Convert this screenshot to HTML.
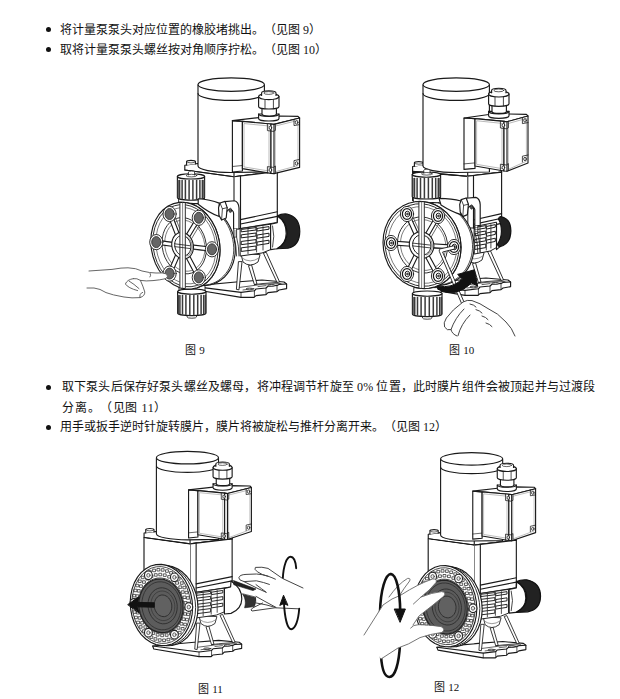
<!DOCTYPE html>
<html lang="zh-CN">
<head>
<meta charset="utf-8">
<title>page</title>
<style>
html,body{margin:0;padding:0;background:#fff;}
body{width:620px;height:699px;position:relative;overflow:hidden;font-family:"Liberation Serif",serif;color:#111;}
.t{position:absolute;text-spacing-trim:space-all;white-space:nowrap;font-size:12px;line-height:14px;height:14px;}
.b{position:absolute;width:5px;height:5px;border-radius:50%;background:#111;}
.c{position:absolute;white-space:nowrap;font-size:11px;line-height:12px;height:12px;word-spacing:1px;}
svg{position:absolute;left:0;top:0;}
</style>
</head>
<body>
<div class="b" style="left:45.7px;top:27px"></div>
<div class="t" style="left:60px;top:23px">将计量泵泵头对应位置的橡胶堵挑出。（见图 9）</div>
<div class="b" style="left:45.7px;top:47.4px"></div>
<div class="t" style="left:60px;top:43.2px">取将计量泵泵头螺丝按对角顺序拧松。（见图 10）</div>
<div class="b" style="left:45.7px;top:384.6px"></div>
<div class="t" style="left:62px;top:380px;letter-spacing:0.16px">取下泵头后保存好泵头螺丝及螺母，将冲程调节杆旋至 0% 位置，此时膜片组件会被顶起并与过渡段</div>
<div class="t" style="left:62.4px;top:400.8px;letter-spacing:0.6px">分离。（见图 11）</div>
<div class="b" style="left:45.7px;top:424.6px"></div>
<div class="t" style="left:60px;top:420px">用手或扳手逆时针旋转膜片，膜片将被旋松与推杆分离开来。（见图 12）</div>
<div class="c" style="left:184.5px;top:344.4px">图 9</div>
<div class="c" style="left:448.5px;top:344.4px">图 10</div>
<div class="c" style="left:197.5px;top:683.4px">图 11</div>
<div class="c" style="left:433.5px;top:681.2px">图 12</div>
<svg id="figs" width="620" height="699" viewBox="0 0 620 699" fill="none" stroke="#1a1a1a" stroke-width="1.15" stroke-linecap="round" stroke-linejoin="round">
<g id="f9">
<path d="M184.8,165.2 L197.5,163.5 L234.0,171.3 L277.3,166.0 L277.3,171.5 L234.0,176.8 L184.8,170.0 Z" fill="#fff"/>
<path d="M184.8,170.0 L234.0,176.8 L277.3,171.5 M234.0,171.3 L234.0,176.8" />
<path d="M186.6,165.0 L186.6,161.6 A4.4,1.3 0 0 1 195.4,161.6 L195.4,164.0" fill="#fff"/>
<path d="M186.6,161.6 A4.4,1.3 0 0 0 195.4,161.6" stroke-width="0.7"/>
<path d="M234.0,176.8 L277.3,171.5 L277.3,222.6 L240.5,228.6 L234.0,228.6 Z" fill="#fff"/>
<path d="M240.5,176.0 L240.5,228.6" />
<path d="M234.0,176.8 L234.0,230.0" stroke="#999" stroke-width="0.7"/>
<path d="M240.5,219.6 L277.3,211.8 M240.5,224.0 L277.3,216.4" />
<g transform="translate(0.0,0.0)">
<path d="M191.4,286.1 L236,282 L262,280 L284,282 L286.6,284 L286.6,288.6 L279,290 L277,291.6 L268,292.6 L266,294.6 L256,295.6 L254,297.4 L241,297.4 L192.6,289.2 Z" fill="#fff"/>
<path d="M191.4,286.1 L241,292.4 L254.4,290.8 L256,289 L266,288 L268,286.2 L277,285.4 L279,284.4 L286.6,284" />
<path d="M238,287.6 L262,284.4 L281,283.4 M243,290 L254,288.6 M258,286.6 L266,285.6" stroke-width="0.8" stroke="#333"/>
<ellipse cx="249.6" cy="289" rx="3.6" ry="0.9" stroke-width="0.8" fill="#ddd"/>
<ellipse cx="271.6" cy="285.4" rx="3.8" ry="0.9" stroke-width="0.8" fill="#ddd"/>
<path d="M241,292.4 L241,297.4 M254.4,290.8 L254.4,297 M266,288 L266,294.4 M277,285.4 L277,291.4" stroke-width="0.8"/>
<path d="M238.4,262 L236.4,289.4 L239,289.8 L242,262 Z" fill="#fff" stroke-width="0.9"/>
<path d="M248.6,266 L254.4,284.6 L257,284 L251.6,265 Z" fill="#fff" stroke-width="0.9"/>
<path d="M263.6,253.6 L277,282.4 L279.6,282 L266.4,252.6 Z" fill="#fff" stroke-width="0.9"/>
<path d="M254.4,284.6 L262,283.6 L277,282.4" stroke-width="0.8"/>
<path d="M241,254 L243,262 Q250,268 258,262 L260,255 Z" fill="#fff" stroke-width="0.9"/>
<path d="M242,258 Q250,264 259,258" stroke-width="0.7" stroke="#666"/>
</g>
<g transform="translate(0.0,0.0)">
<path d="M240.5,228.6 L270.6,224.2 L270.6,249.6 L262.0,253 L240.5,256 Z" fill="#fff" stroke-width="1"/>
<path d="M241.6,229.4 L256.0,227.6 L256.0,230.0 L241.6,231.8 Z" fill="#fff" stroke-width="1"/>
<path d="M241.6,234.8 L256.0,233.0 L256.0,236.0 L241.6,237.8 Z" fill="#fff" stroke-width="1"/>
<path d="M241.6,241.4 L256.0,239.6 L256.0,242.8 L241.6,244.6 Z" fill="#fff" stroke-width="1"/>
<path d="M241.6,247.8 L256.0,246.0 L256.0,249.6 L241.6,251.4 Z" fill="#fff" stroke-width="1"/>
<path d="M257.4,228.4 L269.0,226.6 L269.0,229.2 L257.4,231.0 Z" fill="#fff" stroke-width="1"/>
<path d="M257.4,235.0 L269.0,233.2 L269.0,236.4 L257.4,238.2 Z" fill="#fff" stroke-width="1"/>
<path d="M257.4,242.0 L269.0,240.2 L269.0,243.4 L257.4,245.2 Z" fill="#fff" stroke-width="1"/>
<path d="M248.0,229 L248.0,253.6 M256.6,227 L256.6,252 M263.0,226.6 L263.0,250" stroke-width="0.9" stroke="#333"/>
</g>
<g transform="translate(0.00,0) scale(1.000,1)">
<path d="M270.6,224.2 L277.3,222.6 L277.6,216 Q286.4,222 286.2,233.6 Q286,244 277,248.8 L270.6,249.6 Z" fill="#fff"/>
<path d="M277.6,215.8 Q281,213.6 287,214 Q299.8,217 299.8,231.6 Q299.6,246 288,248.2 L277,248.8 Q287,243 287,233.4 Q287,222 277.6,215.8 Z" fill="#222" stroke="#111"/>
<path d="M272.6,226 Q275,236 272.6,247" stroke-width="0.8"/>
</g>
<g transform="translate(0.0,0.0)">
<path d="M198,85 L198,166 A33.2,6.5 0 0 0 231.2,172.5 L264.4,172 L264.4,85 Z" fill="#fff"/>
<ellipse cx="231.2" cy="84.6" rx="33.2" ry="6.7" fill="#fff"/>
<path d="M198,93.5 A33.2,6.9 0 0 0 264.4,93.5" />
</g>
<path d="M232.4,120.6 L242.4,121.4 L242.4,171.0 L232.4,172.0 Z" fill="#fff"/>
<path d="M232.4,166.5 L242.4,165.5" stroke-width="0.7"/>
<path d="M232.4,120.6 L258.8,117.6 L278.8,116.0 L298.0,116.4 L299.6,118.0 L274.0,124.4 L271.0,124.0 L242.4,121.4 Z" fill="#fff"/>
<path d="M242.4,121.4 L271.0,124.0 L271.0,173.4 L242.4,168.6 Z" fill="#fff"/>
<path d="M244.4,123.6 L269.0,126.0 L269.0,171.0 L244.4,167.0 Z" stroke-width="0.5" stroke="#777"/>
<path d="M271.0,124.0 L274.0,124.4 L299.6,118.0 L299.6,167.4 L274.0,173.6 L271.0,173.4 Z" fill="#fff"/>
<path d="M274.0,124.4 L274.0,173.6" />
<path d="M275.6,126.0 L298.0,120.4 L298.0,165.6 L275.6,171.6 Z" stroke-width="0.5" stroke="#777"/>
<ellipse cx="270.4" cy="127.8" rx="1.3" ry="1.7" fill="#fff" stroke-width="0.8"/>
<ellipse cx="270.4" cy="170.0" rx="1.3" ry="1.7" fill="#fff" stroke-width="0.8"/>
<ellipse cx="296.6" cy="122.4" rx="1.3" ry="1.7" fill="#fff" stroke-width="0.8"/>
<ellipse cx="296.6" cy="163.4" rx="1.3" ry="1.7" fill="#fff" stroke-width="0.8"/>
<path d="M267.4,124.0 L267.4,130.6 L273.4,131.4 L275.4,130.4 L275.4,124.6" stroke-width="0.8"/>
<path d="M267.4,173.0 L267.4,166.6 L273.4,167.4 L275.4,166.0 L275.4,173.0" stroke-width="0.8"/>
<path d="M294.0,119.6 L294.0,125.6 L299.6,124.6" stroke-width="0.8"/>
<path d="M294.0,166.4 L294.0,160.6 L299.6,159.4" stroke-width="0.8"/>
<g transform="translate(0.0,0.0)">
<path d="M258.6,114 L258.6,118.4 A10.2,2.6 0 0 0 279,118.4 L279,114 Z" fill="#fff"/>
<path d="M258.6,114 A10.2,2.4 0 0 0 279,114" />
<path d="M262,107 L262,114 A7.2,2 0 0 0 276.4,114 L276.4,107 Z" fill="#fff"/>
<path d="M258.6,96.6 L258.6,106.4 A10.2,2.6 0 0 0 279,106.4 L279,96.6 Z" fill="#fff"/>
<path d="M265,98 L265,108.4 M273.4,98 L273.4,108.4" stroke-width="0.8"/>
<path d="M258.6,96.6 A10.2,3 0 0 1 279,96.6 A10.2,3 0 0 1 258.6,96.6 Z" fill="#fff"/>
<path d="M261.6,95.4 L261.6,93 A7.2,2.2 0 0 1 276,93 L276,95.4" fill="#fff"/>
<ellipse cx="268.8" cy="93" rx="5" ry="1.4" stroke-width="0.7"/>
</g>
<path d="M179.0,286.0 L179.0,291.6 L205.0,291.6 L205.0,286.0 Z" fill="#fff" stroke-width="0.9"/>
<path d="M177.6,291.6 L177.6,313.0 A14.2,2.6 0 0 0 206.0,313.0 L206.0,291.6 Z" fill="#fff"/>
<path d="M178.2,295.6 L178.2,312.7" stroke-width="1.5" stroke="#3a3a3a"/>
<path d="M179.9,295.6 L179.9,313.4" stroke-width="1.5" stroke="#3a3a3a"/>
<path d="M182.5,295.6 L182.5,314.0" stroke-width="1.5" stroke="#3a3a3a"/>
<path d="M185.9,295.6 L185.9,314.4" stroke-width="1.5" stroke="#3a3a3a"/>
<path d="M189.8,295.6 L189.8,314.6" stroke-width="1.5" stroke="#3a3a3a"/>
<path d="M193.8,295.6 L193.8,314.6" stroke-width="1.5" stroke="#3a3a3a"/>
<path d="M197.7,295.6 L197.7,314.4" stroke-width="1.5" stroke="#3a3a3a"/>
<path d="M201.1,295.6 L201.1,314.0" stroke-width="1.5" stroke="#3a3a3a"/>
<path d="M203.7,295.6 L203.7,313.4" stroke-width="1.5" stroke="#3a3a3a"/>
<path d="M205.4,295.6 L205.4,312.7" stroke-width="1.5" stroke="#3a3a3a"/>
<ellipse cx="191.8" cy="291.6" rx="14.2" ry="2.6" fill="#fff"/>
<path d="M187.1,315.6 L187.1,317.0 A4.6,1.2 0 0 0 196.5,317.0 L196.5,315.6" stroke-width="0.8"/>
<path d="M178.6,198.0 L178.6,202.6 A13,2.4 0 0 0 204.4,202.6 L204.4,198.0 Z" fill="#fff" stroke-width="0.9"/>
<path d="M177.4,176.4 L177.4,197.6 A13.6,2.6 0 0 0 204.6,197.6 L204.6,176.4 Z" fill="#fff"/>
<path d="M178.0,180.4 L178.0,197.3" stroke-width="1.5" stroke="#3a3a3a"/>
<path d="M179.6,180.4 L179.6,198.0" stroke-width="1.5" stroke="#3a3a3a"/>
<path d="M182.1,180.4 L182.1,198.6" stroke-width="1.5" stroke="#3a3a3a"/>
<path d="M185.4,180.4 L185.4,199.0" stroke-width="1.5" stroke="#3a3a3a"/>
<path d="M189.1,180.4 L189.1,199.2" stroke-width="1.5" stroke="#3a3a3a"/>
<path d="M192.9,180.4 L192.9,199.2" stroke-width="1.5" stroke="#3a3a3a"/>
<path d="M196.6,180.4 L196.6,199.0" stroke-width="1.5" stroke="#3a3a3a"/>
<path d="M199.9,180.4 L199.9,198.6" stroke-width="1.5" stroke="#3a3a3a"/>
<path d="M202.4,180.4 L202.4,198.0" stroke-width="1.5" stroke="#3a3a3a"/>
<path d="M204.0,180.4 L204.0,197.3" stroke-width="1.5" stroke="#3a3a3a"/>
<ellipse cx="191.0" cy="176.4" rx="13.6" ry="2.6" fill="#fff"/>
<path d="M188.4,175.0 L188.4,172.0 A3.1,1 0 0 1 194.6,172.0 L194.6,175.0" fill="#fff" stroke-width="0.8"/>
<ellipse cx="191.5" cy="175.6" rx="5.4" ry="1.3" stroke-width="0.7"/>
<path d="M193.6,203.6 L197.7,203.6 L201.9,204.1 L206.0,205.2 L210.0,206.8 L213.9,208.9 L217.5,211.5 L221.0,214.6 L224.2,218.0 L227.0,221.8 L229.5,226.0 L231.5,230.3 L233.2,234.9 L234.3,239.6 L235.1,244.4 L235.3,249.1 L235.1,253.8 L234.3,258.4 L233.2,262.8 L231.5,266.9 L229.5,270.7 L227.0,274.2 L224.2,277.3 L221.0,279.9 L217.5,282.1 L213.9,283.7 L210.0,284.9 L206.0,285.4 L201.9,285.4 L197.7,284.9 L193.6,283.8 L179.4,287.5 L183.4,288.6 L187.4,289.1 L191.4,289.0 L195.3,288.4 L199.1,287.1 L202.7,285.4 L206.1,283.0 L209.1,280.2 L211.9,276.9 L214.3,273.2 L216.3,269.1 L217.9,264.7 L219.1,260.0 L219.8,255.2 L220.0,250.2 L219.8,245.2 L219.1,240.1 L217.9,235.2 L216.3,230.3 L214.3,225.7 L211.9,221.4 L209.1,217.4 L206.1,213.7 L202.7,210.5 L199.1,207.8 L195.3,205.6 L191.4,203.9 L187.4,202.8 L183.4,202.3 L179.4,202.4Z" fill="#fff"/>
<path d="M215.9,211.3 L218.7,213.7 L221.2,216.3 L223.6,219.1 L225.8,222.2 L227.7,225.4 L229.4,228.8 L230.8,232.4 L231.9,236.0 L232.8,239.7 L233.4,243.4 L233.7,247.2 L233.7,250.9 L233.4,254.6 L232.8,258.1 L231.9,261.6 L230.7,264.9 L229.3,268.1 L227.6,271.0 L225.6,273.7 L223.4,276.2 L221.1,278.4 L218.5,280.4 L215.8,282.0 L212.9,283.3 L209.9,284.3 L206.7,285.0 L203.6,285.3 L200.3,285.3 L197.1,284.9 L193.9,284.2" stroke-width="0.8"/>
<path d="M198.2,198.7 Q210.2,199.3 219.2,203.1 L219.2,216.5 Q209.2,213.1 198.2,204.3 Z" fill="#fff"/>
<path d="M220.0,250.2 L219.5,257.6 L217.9,264.7 L215.4,271.2 L211.9,276.9 L207.6,281.7 L202.7,285.4 L197.2,287.8 L191.4,289.0 L185.4,288.9 L179.4,287.5 L173.6,284.8 L168.1,280.9 L163.2,275.9 L158.9,270.0 L155.4,263.4 L152.9,256.2 L151.3,248.8 L150.8,241.2 L151.3,233.8 L152.9,226.7 L155.4,220.2 L158.9,214.5 L163.2,209.7 L168.1,206.0 L173.6,203.6 L179.4,202.4 L185.4,202.5 L191.4,203.9 L197.2,206.6 L202.7,210.5 L207.6,215.5 L211.9,221.4 L215.4,228.0 L217.9,235.2 L219.5,242.6Z" fill="#fff"/>
<path d="M218.0,249.9 L217.5,257.0 L216.0,263.7 L213.6,269.8 L210.4,275.2 L206.4,279.8 L201.7,283.2 L196.5,285.6 L191.1,286.7 L185.4,286.6 L179.7,285.2 L174.3,282.7 L169.1,279.0 L164.4,274.3 L160.4,268.7 L157.2,262.5 L154.8,255.7 L153.3,248.6 L152.8,241.5 L153.3,234.4 L154.8,227.7 L157.2,221.6 L160.4,216.2 L164.4,211.6 L169.1,208.2 L174.3,205.8 L179.7,204.7 L185.4,204.8 L191.1,206.2 L196.5,208.7 L201.7,212.4 L206.4,217.1 L210.4,222.7 L213.6,228.9 L216.0,235.7 L217.5,242.8Z" stroke-width="0.9"/>
<path d="M215.8,249.6 L215.3,256.1 L214.0,262.4 L211.8,268.1 L208.8,273.1 L205.1,277.3 L200.8,280.6 L196.1,282.7 L191.0,283.8 L185.8,283.7 L180.6,282.4 L175.5,280.1 L170.8,276.7 L166.5,272.3 L162.8,267.1 L159.8,261.3 L157.6,255.0 L156.3,248.5 L155.8,241.8 L156.3,235.3 L157.6,229.0 L159.8,223.3 L162.8,218.3 L166.5,214.1 L170.8,210.8 L175.5,208.7 L180.6,207.6 L185.8,207.7 L191.0,209.0 L196.1,211.3 L200.8,214.7 L205.1,219.1 L208.8,224.3 L211.8,230.1 L214.0,236.4 L215.3,242.9Z" stroke-width="0.7" stroke="#444"/>
<path d="M206.4,248.6 L206.1,253.4 L205.1,258.0 L203.5,262.2 L201.2,265.9 L198.5,269.0 L195.3,271.4 L191.8,273.0 L188.1,273.8 L184.2,273.7 L180.3,272.8 L176.6,271.0 L173.1,268.5 L169.9,265.3 L167.2,261.5 L164.9,257.2 L163.3,252.6 L162.3,247.7 L162.0,242.8 L162.3,238.0 L163.3,233.4 L164.9,229.2 L167.2,225.5 L169.9,222.4 L173.1,220.0 L176.6,218.4 L180.3,217.6 L184.2,217.7 L188.1,218.6 L191.8,220.4 L195.3,222.9 L198.5,226.1 L201.2,229.9 L203.5,234.2 L205.1,238.8 L206.1,243.7Z" stroke-width="0.9"/>
<path d="M204.9,248.3 L204.6,252.7 L203.7,256.8 L202.2,260.7 L200.2,264.0 L197.7,266.8 L194.8,269.0 L191.7,270.5 L188.3,271.2 L184.8,271.1 L181.3,270.3 L177.9,268.7 L174.8,266.4 L171.9,263.5 L169.4,260.0 L167.4,256.1 L165.9,251.9 L165.0,247.5 L164.7,243.1 L165.0,238.7 L165.9,234.6 L167.4,230.7 L169.4,227.4 L171.9,224.6 L174.8,222.4 L177.9,220.9 L181.3,220.2 L184.8,220.3 L188.3,221.1 L191.7,222.7 L194.8,225.0 L197.7,227.9 L200.2,231.4 L202.2,235.3 L203.7,239.5 L204.6,243.9Z" stroke-width="0.7" stroke="#444"/>
<path d="M182.4,235.6 L174.1,213.9" stroke-width="0.8" stroke="#444"/>
<path d="M179.8,235.0 L171.5,213.3 L167.7,214.7 L176.1,236.4 Z" fill="#fff" stroke="none"/>
<path d="M179.8,235.0 L171.5,213.3 M176.1,236.4 L167.7,214.7" stroke-width="1.1"/>
<path d="M191.6,238.6 L203.1,219.4" stroke-width="0.8" stroke="#444"/>
<path d="M189.0,238.0 L200.5,218.8 L197.1,216.8 L185.5,235.9 Z" fill="#fff" stroke="none"/>
<path d="M189.0,238.0 L200.5,218.8 M185.5,235.9 L197.1,216.8" stroke-width="1.1"/>
<path d="M176.6,243.2 L159.2,240.7" stroke-width="0.8" stroke="#444"/>
<path d="M174.0,242.6 L156.6,240.1 L156.1,244.1 L173.4,246.5 Z" fill="#fff" stroke="none"/>
<path d="M174.0,242.6 L156.6,240.1 M173.4,246.5 L156.1,244.1" stroke-width="1.1"/>
<path d="M193.9,249.4 L214.4,251.9" stroke-width="0.8" stroke="#444"/>
<path d="M191.3,248.8 L211.8,251.3 L212.3,247.3 L191.7,244.9 Z" fill="#fff" stroke="none"/>
<path d="M191.3,248.8 L211.8,251.3 M191.7,244.9 L212.3,247.3" stroke-width="1.1"/>
<path d="M178.7,254.3 L170.4,273.4" stroke-width="0.8" stroke="#444"/>
<path d="M176.1,253.7 L167.8,272.8 L171.4,274.4 L179.8,255.3 Z" fill="#fff" stroke="none"/>
<path d="M176.1,253.7 L167.8,272.8 M179.8,255.3 L171.4,274.4" stroke-width="1.1"/>
<path d="M188.1,257.2 L199.6,278.9" stroke-width="0.8" stroke="#444"/>
<path d="M185.5,256.6 L197.0,278.3 L200.6,276.5 L189.0,254.7 Z" fill="#fff" stroke="none"/>
<path d="M185.5,256.6 L197.0,278.3 M189.0,254.7 L200.6,276.5" stroke-width="1.1"/>
<path d="M193.5,247.1 L193.3,249.4 L192.8,251.5 L192.0,253.5 L190.9,255.3 L189.6,256.7 L188.0,257.8 L186.3,258.6 L184.5,258.9 L182.6,258.9 L180.7,258.5 L178.9,257.6 L177.2,256.4 L175.6,254.9 L174.3,253.1 L173.2,251.1 L172.4,248.9 L171.9,246.6 L171.7,244.3 L171.9,242.0 L172.4,239.9 L173.2,237.9 L174.3,236.1 L175.6,234.7 L177.2,233.6 L178.9,232.8 L180.7,232.5 L182.6,232.5 L184.5,232.9 L186.3,233.8 L188.0,235.0 L189.6,236.5 L190.9,238.3 L192.0,240.3 L192.8,242.5 L193.3,244.8Z" fill="#fff" stroke-width="1.1"/>
<path d="M190.9,246.8 L190.8,248.5 L190.4,250.1 L189.8,251.6 L189.0,252.9 L188.0,254.0 L186.9,254.9 L185.6,255.5 L184.2,255.7 L182.8,255.7 L181.4,255.4 L180.0,254.7 L178.7,253.8 L177.6,252.7 L176.6,251.3 L175.8,249.8 L175.2,248.1 L174.8,246.4 L174.7,244.6 L174.8,242.9 L175.2,241.3 L175.8,239.8 L176.6,238.5 L177.6,237.4 L178.7,236.5 L180.0,235.9 L181.4,235.7 L182.8,235.7 L184.2,236.0 L185.6,236.7 L186.9,237.6 L188.0,238.7 L189.0,240.1 L189.8,241.6 L190.4,243.3 L190.8,245.0Z" stroke-width="1"/>
<path d="M187.0,237.1 L188.5,238.1 L189.8,239.5 L190.8,241.2 L191.6,243.1 L192.1,245.1 L192.3,247.2 L192.1,249.2 L191.6,251.0 L190.8,252.7 L189.8,254.1 L188.5,255.2 L187.0,255.9" stroke-width="0.7" stroke="#555"/>
<path d="M179.9,203.1 L185.3,203.1 L185.3,287.5 L179.9,287.5 Z" fill="#fff" stroke="none"/>
<path d="M179.9,202.6 L179.9,288.0 M185.3,202.6 L185.3,288.0" stroke-width="1" stroke="#2a2a2a"/>
<path d="M182.6,202.6 L182.6,288.0" stroke-width="0.7" stroke="#555"/>
<path d="M174.7,243.8 L190.5,245.8 M174.7,246.6 L190.5,248.6" stroke-width="0.8"/>
<ellipse cx="169.6" cy="214.0" rx="6.6" ry="7.6" fill="#fff" stroke-width="0.9"/>
<ellipse cx="169.6" cy="214.0" rx="4.6" ry="5.5" fill="#666" stroke="#333" stroke-width="0.9"/>
<ellipse cx="198.8" cy="217.8" rx="6.6" ry="7.6" fill="#fff" stroke-width="0.9"/>
<ellipse cx="198.8" cy="217.8" rx="4.6" ry="5.5" fill="#666" stroke="#333" stroke-width="0.9"/>
<ellipse cx="156.3" cy="242.1" rx="6.6" ry="7.6" fill="#fff" stroke-width="0.9"/>
<ellipse cx="156.3" cy="242.1" rx="4.6" ry="5.5" fill="#666" stroke="#333" stroke-width="0.9"/>
<ellipse cx="212.0" cy="249.3" rx="6.6" ry="7.6" fill="#fff" stroke-width="0.9"/>
<ellipse cx="212.0" cy="249.3" rx="4.6" ry="5.5" fill="#666" stroke="#333" stroke-width="0.9"/>
<ellipse cx="169.6" cy="273.6" rx="6.6" ry="7.6" fill="#fff" stroke-width="0.9"/>
<ellipse cx="169.6" cy="273.6" rx="4.6" ry="5.5" fill="#666" stroke="#333" stroke-width="0.9"/>
<ellipse cx="198.8" cy="277.4" rx="6.6" ry="7.6" fill="#fff" stroke-width="0.9"/>
<ellipse cx="198.8" cy="277.4" rx="4.6" ry="5.5" fill="#666" stroke="#333" stroke-width="0.9"/>
<g transform="translate(0.0,0.0)">
<path d="M224.6,201.6 L234.6,200.8 Q238.6,202 239,208 L239,229 L233.6,229 L233.6,213 Q233,209.6 229,209.4 L226,212 Z" fill="#fff"/>
<path d="M233.8,229 L233.8,237 L236.6,237 L236.6,229" fill="#fff" stroke-width="0.8"/>
<path d="M233.8,231 L236.6,231 M233.8,233 L236.6,233 M233.8,235 L236.6,235" stroke-width="0.5"/>
<path d="M234.2,237 Q236.4,246 236.6,256 M236.6,237 Q239,246 239,256" stroke-width="0.8"/>
<ellipse cx="230.4" cy="210.4" rx="1.3" ry="2.2" fill="#555" stroke-width="0.6"/>
<path d="M220,203 L225,201.4 L227.2,207.6 L226.2,218 L221.6,220 L219,215.4 L218.5,207.8 Z" fill="#fff"/>
<path d="M220,203 L222.4,208.8 L221.6,220 M222.4,208.8 L227.2,207.6" stroke-width="0.8"/>
</g>
<path d="M89,271 L112,269.4 Q122,267.6 128,267.8 Q136,268 142,271 Q150,273 156,273 Q163,272.4 166.6,274 Q168.6,276.6 166,278.6 Q160,280 153,280.6 Q146,281.4 140.4,280.4 Q143,286 144.8,292 Q145,296 140,297.6 Q132,298.4 124,297 Q112,295 106,292.6 Q100,288.6 94,288 L87,288 L87,271 Z" fill="#fff" stroke="none"/>
<path d="M89,271 L112,269.4 Q122,267.6 128,267.8 Q136,268 142,271 Q150,273 156,273 Q163,272.4 166.6,274 Q168.6,276.6 166,278.6 Q160,280 153,280.6 Q146,281.4 140.4,280.4" stroke="#555" stroke-width="0.9"/>
<path d="M87,288 L94,288 Q100,288.6 106,292.6 Q112,295 124,297 Q132,298.4 140,297.6 Q145,296 144.8,292 Q143,286 140.4,280.4 Q137,278 133.4,278.6" stroke="#555" stroke-width="0.9"/>
<path d="M133.4,278.6 Q127,279.6 125.4,284 Q128,288 137.6,290.6 M129,281 Q134,284 139,288.6 M140,297.6 Q139,293.6 142.6,292.4 M150.2,273.4 Q151.4,275.4 150,277" stroke="#555" stroke-width="0.9"/>
</g>
<g id="f10">
<path d="M412.6,172.1 L412.6,200.5 L467.7,210.6 L467.7,176.2 Z" fill="#fff"/>
<path d="M412.6,166.5 L422.8,164.8 L467.7,170.6 L501.6,166.5 L501.6,172.1 L467.7,176.2 L412.6,171.4 Z" fill="#fff"/>
<path d="M412.6,171.4 L467.7,176.2 L501.6,172.1 M467.7,170.6 L467.7,176.2" />
<path d="M414.4,166.3 L414.4,162.9 A4.4,1.3 0 0 1 423.2,162.9 L423.2,165.3" fill="#fff"/>
<path d="M414.4,162.9 A4.4,1.3 0 0 0 423.2,162.9" stroke-width="0.7"/>
<path d="M467.7,176.2 L501.6,172.1 L501.6,224.4 L473.5,228.0 L467.7,228.0 Z" fill="#fff"/>
<path d="M473.5,175.4 L473.5,228.0" />
<path d="M467.7,176.2 L467.7,229.4" stroke="#999" stroke-width="0.7"/>
<path d="M473.5,220.0 L501.6,213.6 M473.5,224.4 L501.6,218.2" />
<g transform="translate(224.0,-2.0)">
<path d="M191.4,286.1 L236,282 L262,280 L284,282 L286.6,284 L286.6,288.6 L279,290 L277,291.6 L268,292.6 L266,294.6 L256,295.6 L254,297.4 L241,297.4 L192.6,289.2 Z" fill="#fff"/>
<path d="M191.4,286.1 L241,292.4 L254.4,290.8 L256,289 L266,288 L268,286.2 L277,285.4 L279,284.4 L286.6,284" />
<path d="M238,287.6 L262,284.4 L281,283.4 M243,290 L254,288.6 M258,286.6 L266,285.6" stroke-width="0.8" stroke="#333"/>
<ellipse cx="249.6" cy="289" rx="3.6" ry="0.9" stroke-width="0.8" fill="#ddd"/>
<ellipse cx="271.6" cy="285.4" rx="3.8" ry="0.9" stroke-width="0.8" fill="#ddd"/>
<path d="M241,292.4 L241,297.4 M254.4,290.8 L254.4,297 M266,288 L266,294.4 M277,285.4 L277,291.4" stroke-width="0.8"/>
<path d="M238.4,262 L236.4,289.4 L239,289.8 L242,262 Z" fill="#fff" stroke-width="0.9"/>
<path d="M248.6,266 L254.4,284.6 L257,284 L251.6,265 Z" fill="#fff" stroke-width="0.9"/>
<path d="M263.6,253.6 L277,282.4 L279.6,282 L266.4,252.6 Z" fill="#fff" stroke-width="0.9"/>
<path d="M254.4,284.6 L262,283.6 L277,282.4" stroke-width="0.8"/>
<path d="M241,254 L243,262 Q250,268 258,262 L260,255 Z" fill="#fff" stroke-width="0.9"/>
<path d="M242,258 Q250,264 259,258" stroke-width="0.7" stroke="#666"/>
</g>
<g transform="translate(234.0,-2.0)">
<path d="M240.5,228.6 L262.5,224.2 L262.5,249.6 L256.2,253 L240.5,256 Z" fill="#fff" stroke-width="1"/>
<path d="M241.3,229.4 L251.8,227.6 L251.8,230.0 L241.3,231.8 Z" fill="#fff" stroke-width="1"/>
<path d="M241.3,234.8 L251.8,233.0 L251.8,236.0 L241.3,237.8 Z" fill="#fff" stroke-width="1"/>
<path d="M241.3,241.4 L251.8,239.6 L251.8,242.8 L241.3,244.6 Z" fill="#fff" stroke-width="1"/>
<path d="M241.3,247.8 L251.8,246.0 L251.8,249.6 L241.3,251.4 Z" fill="#fff" stroke-width="1"/>
<path d="M252.9,228.4 L261.3,226.6 L261.3,229.2 L252.9,231.0 Z" fill="#fff" stroke-width="1"/>
<path d="M252.9,235.0 L261.3,233.2 L261.3,236.4 L252.9,238.2 Z" fill="#fff" stroke-width="1"/>
<path d="M252.9,242.0 L261.3,240.2 L261.3,243.4 L252.9,245.2 Z" fill="#fff" stroke-width="1"/>
<path d="M246.0,229 L246.0,253.6 M252.3,227 L252.3,252 M256.9,226.6 L256.9,250" stroke-width="0.9" stroke="#333"/>
</g>
<path d="M496.5,224.4 L501.6,223.4 L501.6,218.4 Q503.6,224 503.6,231.6 Q503.6,240 500,246.6 L496.5,249.6 Z" fill="#fff"/>
<path d="M500.8,216.5 Q511,218.6 510.9,231 Q510.7,244 500,246.6 Q497.6,246.4 497.4,244.4 Q501.4,238 501.4,231.4 Q501.4,224 498.4,219 Q499,216.6 500.8,216.5 Z" fill="#222" stroke="#111"/>
<g transform="translate(225.0,0.0)">
<path d="M198,85 L198,166 A33.2,6.5 0 0 0 231.2,172.5 L264.4,172 L264.4,85 Z" fill="#fff"/>
<ellipse cx="231.2" cy="84.6" rx="33.2" ry="6.7" fill="#fff"/>
<path d="M198,93.5 A33.2,6.9 0 0 0 264.4,93.5" />
</g>
<path d="M464.0,118.0 L475.0,118.6 L475.0,168.4 L464.0,169.4 Z" fill="#fff"/>
<path d="M464.0,163.9 L475.0,162.9" stroke-width="0.7"/>
<path d="M464.0,118.0 L488.8,114.5 L508.8,114.0 L526.4,114.4 L528.0,116.0 L507.0,121.8 L504.0,121.4 L475.0,118.6 Z" fill="#fff"/>
<path d="M475.0,118.6 L504.0,121.4 L504.0,171.0 L475.0,166.0 Z" fill="#fff"/>
<path d="M477.0,120.8 L502.0,123.4 L502.0,168.6 L477.0,164.4 Z" stroke-width="0.5" stroke="#777"/>
<path d="M504.0,121.4 L507.0,121.8 L528.0,116.0 L528.0,163.0 L507.0,171.2 L504.0,171.0 Z" fill="#fff"/>
<path d="M507.0,121.8 L507.0,171.2" />
<path d="M508.6,123.4 L526.4,118.4 L526.4,161.2 L508.6,169.2 Z" stroke-width="0.5" stroke="#777"/>
<ellipse cx="503.4" cy="125.2" rx="1.3" ry="1.7" fill="#fff" stroke-width="0.8"/>
<ellipse cx="503.4" cy="167.6" rx="1.3" ry="1.7" fill="#fff" stroke-width="0.8"/>
<ellipse cx="525.0" cy="120.4" rx="1.3" ry="1.7" fill="#fff" stroke-width="0.8"/>
<ellipse cx="525.0" cy="159.0" rx="1.3" ry="1.7" fill="#fff" stroke-width="0.8"/>
<path d="M500.4,121.4 L500.4,128.0 L506.4,128.8 L508.4,127.8 L508.4,122.0" stroke-width="0.8"/>
<path d="M500.4,170.6 L500.4,164.2 L506.4,165.0 L508.4,163.6 L508.4,170.6" stroke-width="0.8"/>
<path d="M522.4,117.6 L522.4,123.6 L528.0,122.6" stroke-width="0.8"/>
<path d="M522.4,162.0 L522.4,156.2 L528.0,155.0" stroke-width="0.8"/>
<g transform="translate(230.0,-2.6)">
<path d="M258.6,114 L258.6,118.4 A10.2,2.6 0 0 0 279,118.4 L279,114 Z" fill="#fff"/>
<path d="M258.6,114 A10.2,2.4 0 0 0 279,114" />
<path d="M262,107 L262,114 A7.2,2 0 0 0 276.4,114 L276.4,107 Z" fill="#fff"/>
<path d="M258.6,96.6 L258.6,106.4 A10.2,2.6 0 0 0 279,106.4 L279,96.6 Z" fill="#fff"/>
<path d="M265,98 L265,108.4 M273.4,98 L273.4,108.4" stroke-width="0.8"/>
<path d="M258.6,96.6 A10.2,3 0 0 1 279,96.6 A10.2,3 0 0 1 258.6,96.6 Z" fill="#fff"/>
<path d="M261.6,95.4 L261.6,93 A7.2,2.2 0 0 1 276,93 L276,95.4" fill="#fff"/>
<ellipse cx="268.8" cy="93" rx="5" ry="1.4" stroke-width="0.7"/>
</g>
<path d="M413.8,288.0 L413.8,293.6 L441.0,293.6 L441.0,288.0 Z" fill="#fff" stroke-width="0.9"/>
<path d="M412.4,293.6 L412.4,314.0 A14.8,2.6 0 0 0 442.0,314.0 L442.0,293.6 Z" fill="#fff"/>
<path d="M413.0,297.6 L413.0,313.7" stroke-width="1.5" stroke="#3a3a3a"/>
<path d="M414.7,297.6 L414.7,314.4" stroke-width="1.5" stroke="#3a3a3a"/>
<path d="M417.5,297.6 L417.5,315.0" stroke-width="1.5" stroke="#3a3a3a"/>
<path d="M421.1,297.6 L421.1,315.4" stroke-width="1.5" stroke="#3a3a3a"/>
<path d="M425.1,297.6 L425.1,315.6" stroke-width="1.5" stroke="#3a3a3a"/>
<path d="M429.3,297.6 L429.3,315.6" stroke-width="1.5" stroke="#3a3a3a"/>
<path d="M433.3,297.6 L433.3,315.4" stroke-width="1.5" stroke="#3a3a3a"/>
<path d="M436.9,297.6 L436.9,315.0" stroke-width="1.5" stroke="#3a3a3a"/>
<path d="M439.7,297.6 L439.7,314.4" stroke-width="1.5" stroke="#3a3a3a"/>
<path d="M441.4,297.6 L441.4,313.7" stroke-width="1.5" stroke="#3a3a3a"/>
<ellipse cx="427.2" cy="293.6" rx="14.8" ry="2.6" fill="#fff"/>
<path d="M422.5,316.6 L422.5,318.0 A4.6,1.2 0 0 0 431.9,318.0 L431.9,316.6" stroke-width="0.8"/>
<path d="M413.4,196.8 L413.4,201.4 A13,2.4 0 0 0 440.4,201.4 L440.4,196.8 Z" fill="#fff" stroke-width="0.9"/>
<path d="M412.2,174.6 L412.2,196.4 A14.2,2.6 0 0 0 440.6,196.4 L440.6,174.6 Z" fill="#fff"/>
<path d="M412.8,178.6 L412.8,196.1" stroke-width="1.5" stroke="#3a3a3a"/>
<path d="M414.5,178.6 L414.5,196.8" stroke-width="1.5" stroke="#3a3a3a"/>
<path d="M417.1,178.6 L417.1,197.4" stroke-width="1.5" stroke="#3a3a3a"/>
<path d="M420.5,178.6 L420.5,197.8" stroke-width="1.5" stroke="#3a3a3a"/>
<path d="M424.4,178.6 L424.4,198.0" stroke-width="1.5" stroke="#3a3a3a"/>
<path d="M428.4,178.6 L428.4,198.0" stroke-width="1.5" stroke="#3a3a3a"/>
<path d="M432.3,178.6 L432.3,197.8" stroke-width="1.5" stroke="#3a3a3a"/>
<path d="M435.7,178.6 L435.7,197.4" stroke-width="1.5" stroke="#3a3a3a"/>
<path d="M438.3,178.6 L438.3,196.8" stroke-width="1.5" stroke="#3a3a3a"/>
<path d="M440.0,178.6 L440.0,196.1" stroke-width="1.5" stroke="#3a3a3a"/>
<ellipse cx="426.4" cy="174.6" rx="14.2" ry="2.6" fill="#fff"/>
<path d="M423.8,173.2 L423.8,170.2 A3.1,1 0 0 1 430.0,170.2 L430.0,173.2" fill="#fff" stroke-width="0.8"/>
<ellipse cx="426.9" cy="173.8" rx="5.4" ry="1.3" stroke-width="0.7"/>
<path d="M428.3,202.8 L432.8,202.5 L437.4,202.8 L441.9,203.7 L446.3,205.1 L450.5,207.0 L454.6,209.4 L458.4,212.3 L461.9,215.6 L465.0,219.3 L467.7,223.4 L470.0,227.7 L471.7,232.2 L473.0,236.9 L473.8,241.7 L474.1,246.5 L473.8,251.3 L473.0,256.0 L471.7,260.5 L470.0,264.8 L467.7,268.9 L465.0,272.6 L461.9,275.9 L458.4,278.7 L454.6,281.1 L450.5,283.0 L446.3,284.4 L441.9,285.2 L437.4,285.5 L432.8,285.2 L428.3,284.3 L415.2,287.4 L419.7,288.3 L424.3,288.6 L428.8,288.3 L433.2,287.4 L437.4,285.9 L441.5,283.9 L445.3,281.4 L448.8,278.4 L451.9,274.9 L454.6,271.0 L456.9,266.8 L458.6,262.3 L459.9,257.5 L460.7,252.6 L461.0,247.5 L460.7,242.5 L459.9,237.4 L458.6,232.5 L456.9,227.7 L454.6,223.2 L451.9,219.0 L448.8,215.1 L445.3,211.6 L441.5,208.6 L437.4,206.1 L433.2,204.1 L428.8,202.6 L424.3,201.7 L419.7,201.4 L415.2,201.7Z" fill="#fff"/>
<path d="M453.0,209.2 L456.0,211.4 L458.8,213.9 L461.4,216.7 L463.8,219.7 L465.9,222.9 L467.7,226.2 L469.3,229.7 L470.6,233.3 L471.5,237.0 L472.2,240.8 L472.5,244.6 L472.5,248.4 L472.1,252.1 L471.5,255.8 L470.5,259.3 L469.2,262.8 L467.6,266.1 L465.8,269.2 L463.6,272.1 L461.2,274.7 L458.6,277.1 L455.8,279.2 L452.8,281.0 L449.6,282.5 L446.3,283.7 L442.9,284.6 L439.4,285.1 L435.9,285.3 L432.3,285.1 L428.7,284.6" stroke-width="0.8"/>
<path d="M439.0,198.4 Q452.0,198.8 461.0,201.0 L461.0,214.6 Q452.0,212.0 441.0,205.0 Z" fill="#fff"/>
<path d="M461.0,247.5 L460.4,255.1 L458.6,262.3 L455.8,268.9 L451.9,274.9 L447.1,280.0 L441.5,283.9 L435.3,286.7 L428.8,288.3 L422.0,288.5 L415.2,287.4 L408.7,285.0 L402.5,281.4 L396.9,276.7 L392.1,271.0 L388.2,264.6 L385.4,257.5 L383.6,250.1 L383.0,242.5 L383.6,234.9 L385.4,227.7 L388.2,221.1 L392.1,215.1 L396.9,210.0 L402.5,206.1 L408.7,203.3 L415.2,201.7 L422.0,201.5 L428.8,202.6 L435.3,205.0 L441.5,208.6 L447.1,213.3 L451.9,219.0 L455.8,225.4 L458.6,232.5 L460.4,239.9Z" fill="#fff"/>
<path d="M459.0,247.4 L458.4,254.5 L456.8,261.4 L454.0,267.7 L450.3,273.3 L445.8,278.1 L440.5,281.9 L434.7,284.5 L428.4,286.0 L422.0,286.2 L415.6,285.2 L409.3,282.9 L403.5,279.5 L398.2,275.0 L393.7,269.6 L390.0,263.5 L387.2,256.8 L385.6,249.8 L385.0,242.6 L385.6,235.5 L387.2,228.6 L390.0,222.3 L393.7,216.7 L398.2,211.9 L403.5,208.1 L409.3,205.5 L415.6,204.0 L422.0,203.8 L428.4,204.8 L434.7,207.1 L440.5,210.5 L445.8,215.0 L450.3,220.4 L454.0,226.5 L456.8,233.2 L458.4,240.2Z" stroke-width="0.9"/>
<path d="M456.8,247.2 L456.3,253.9 L454.7,260.2 L452.2,266.1 L448.8,271.3 L444.5,275.8 L439.6,279.3 L434.2,281.8 L428.4,283.1 L422.4,283.3 L416.4,282.3 L410.6,280.2 L405.2,277.1 L400.3,272.9 L396.0,267.9 L392.6,262.2 L390.1,256.0 L388.5,249.4 L388.0,242.8 L388.5,236.1 L390.1,229.8 L392.6,223.9 L396.0,218.7 L400.3,214.2 L405.2,210.7 L410.6,208.2 L416.4,206.9 L422.4,206.7 L428.4,207.7 L434.2,209.8 L439.6,212.9 L444.5,217.1 L448.8,222.1 L452.2,227.8 L454.7,234.0 L456.3,240.6Z" stroke-width="0.7" stroke="#444"/>
<path d="M447.6,246.6 L447.2,251.5 L446.1,256.1 L444.2,260.4 L441.7,264.2 L438.6,267.5 L435.0,270.1 L431.1,271.9 L426.9,272.9 L422.5,273.0 L418.1,272.3 L413.9,270.8 L410.0,268.4 L406.4,265.4 L403.3,261.7 L400.8,257.6 L398.9,253.0 L397.8,248.3 L397.4,243.4 L397.8,238.5 L398.9,233.9 L400.8,229.6 L403.3,225.8 L406.4,222.5 L410.0,219.9 L413.9,218.1 L418.1,217.1 L422.5,217.0 L426.9,217.7 L431.1,219.2 L435.0,221.6 L438.6,224.6 L441.7,228.3 L444.2,232.4 L446.1,237.0 L447.2,241.7Z" stroke-width="0.9"/>
<path d="M445.7,246.5 L445.4,250.9 L444.4,255.1 L442.7,259.0 L440.4,262.5 L437.6,265.4 L434.4,267.7 L430.8,269.4 L427.0,270.3 L423.1,270.4 L419.2,269.8 L415.4,268.4 L411.8,266.3 L408.6,263.5 L405.8,260.2 L403.5,256.4 L401.8,252.3 L400.8,248.0 L400.5,243.5 L400.8,239.1 L401.8,234.9 L403.5,231.0 L405.8,227.5 L408.6,224.6 L411.8,222.3 L415.4,220.6 L419.2,219.7 L423.1,219.6 L427.0,220.2 L430.8,221.6 L434.4,223.7 L437.6,226.5 L440.4,229.8 L442.7,233.6 L444.4,237.7 L445.4,242.0Z" stroke-width="0.7" stroke="#444"/>
<path d="M421.1,234.9 L411.4,213.7" stroke-width="0.8" stroke="#444"/>
<path d="M418.5,234.3 L408.8,213.1 L405.2,214.8 L414.8,235.9 Z" fill="#fff" stroke="none"/>
<path d="M418.5,234.3 L408.8,213.1 M414.8,235.9 L405.2,214.8" stroke-width="1.1"/>
<path d="M430.9,237.4 L442.3,217.6" stroke-width="0.8" stroke="#444"/>
<path d="M428.3,236.8 L439.7,217.0 L436.3,215.0 L424.8,234.7 Z" fill="#fff" stroke="none"/>
<path d="M428.3,236.8 L439.7,217.0 M424.8,234.7 L436.3,215.0" stroke-width="1.1"/>
<path d="M414.3,243.0 L393.7,241.6" stroke-width="0.8" stroke="#444"/>
<path d="M411.7,242.4 L391.1,241.0 L390.9,244.9 L411.4,246.3 Z" fill="#fff" stroke="none"/>
<path d="M411.7,242.4 L391.1,241.0 M411.4,246.3 L390.9,244.9" stroke-width="1.1"/>
<path d="M434.1,248.2 L456.5,249.6" stroke-width="0.8" stroke="#444"/>
<path d="M431.5,247.6 L453.9,249.0 L454.1,245.1 L431.8,243.7 Z" fill="#fff" stroke="none"/>
<path d="M431.5,247.6 L453.9,249.0 M431.8,243.7 L454.1,245.1" stroke-width="1.1"/>
<path d="M417.5,254.0 L407.8,273.7" stroke-width="0.8" stroke="#444"/>
<path d="M414.9,253.4 L405.2,273.1 L408.8,274.9 L418.5,255.1 Z" fill="#fff" stroke="none"/>
<path d="M414.9,253.4 L405.2,273.1 M418.5,255.1 L408.8,274.9" stroke-width="1.1"/>
<path d="M427.4,256.4 L438.9,277.6" stroke-width="0.8" stroke="#444"/>
<path d="M424.8,255.8 L436.3,277.0 L439.8,275.1 L428.3,253.9 Z" fill="#fff" stroke="none"/>
<path d="M424.8,255.8 L436.3,277.0 M428.3,253.9 L439.8,275.1" stroke-width="1.1"/>
<path d="M433.9,245.8 L433.7,248.1 L433.1,250.3 L432.2,252.3 L431.0,254.1 L429.5,255.6 L427.7,256.8 L425.8,257.7 L423.7,258.1 L421.6,258.2 L419.5,257.9 L417.4,257.1 L415.5,256.0 L413.7,254.6 L412.2,252.9 L411.0,250.9 L410.1,248.8 L409.5,246.5 L409.3,244.2 L409.5,241.9 L410.1,239.7 L411.0,237.7 L412.2,235.9 L413.7,234.4 L415.5,233.2 L417.4,232.3 L419.5,231.9 L421.6,231.8 L423.7,232.1 L425.8,232.9 L427.7,234.0 L429.5,235.4 L431.0,237.1 L432.2,239.1 L433.1,241.2 L433.7,243.5Z" fill="#fff" stroke-width="1.1"/>
<path d="M430.9,245.6 L430.8,247.3 L430.4,249.0 L429.7,250.5 L428.8,251.9 L427.7,253.0 L426.4,254.0 L424.9,254.6 L423.4,255.0 L421.8,255.0 L420.2,254.7 L418.7,254.2 L417.2,253.4 L415.9,252.3 L414.8,251.0 L413.9,249.5 L413.2,247.9 L412.8,246.2 L412.7,244.4 L412.8,242.7 L413.2,241.0 L413.9,239.5 L414.8,238.1 L415.9,237.0 L417.2,236.0 L418.7,235.4 L420.2,235.0 L421.8,235.0 L423.4,235.3 L424.9,235.8 L426.4,236.6 L427.7,237.7 L428.8,239.0 L429.7,240.5 L430.4,242.1 L430.8,243.8Z" stroke-width="1"/>
<path d="M426.3,236.2 L428.0,237.2 L429.5,238.5 L430.7,240.2 L431.6,242.0 L432.1,244.0 L432.3,246.0 L432.1,248.0 L431.6,249.9 L430.7,251.6 L429.5,253.1 L428.0,254.2 L426.3,255.0" stroke-width="0.7" stroke="#555"/>
<path d="M418.9,202.5 L424.3,202.5 L424.3,287.5 L418.9,287.5 Z" fill="#fff" stroke="none"/>
<path d="M418.9,202.0 L418.9,288.0 M424.3,202.0 L424.3,288.0" stroke-width="1" stroke="#2a2a2a"/>
<path d="M421.6,202.0 L421.6,288.0" stroke-width="0.7" stroke="#555"/>
<path d="M412.7,243.1 L430.5,245.1 M412.7,245.9 L430.5,247.9" stroke-width="0.8"/>
<ellipse cx="407.0" cy="214.0" rx="6.6" ry="7.6" fill="#fff" stroke-width="0.9"/>
<ellipse cx="407.0" cy="214.0" rx="4.6" ry="5.4" stroke-width="1.2"/>
<ellipse cx="407.4" cy="214.0" rx="2.3" ry="2.8" fill="#fff" stroke-width="1"/>
<ellipse cx="407.4" cy="214.0" rx="0.9" ry="1.1" fill="#555" stroke-width="0.5"/>
<ellipse cx="438.0" cy="216.0" rx="6.6" ry="7.6" fill="#fff" stroke-width="0.9"/>
<ellipse cx="438.0" cy="216.0" rx="4.6" ry="5.4" stroke-width="1.2"/>
<ellipse cx="438.4" cy="216.0" rx="2.3" ry="2.8" fill="#fff" stroke-width="1"/>
<ellipse cx="438.4" cy="216.0" rx="0.9" ry="1.1" fill="#555" stroke-width="0.5"/>
<ellipse cx="391.0" cy="243.0" rx="6.6" ry="7.6" fill="#fff" stroke-width="0.9"/>
<ellipse cx="391.0" cy="243.0" rx="4.6" ry="5.4" stroke-width="1.2"/>
<ellipse cx="391.4" cy="243.0" rx="2.3" ry="2.8" fill="#fff" stroke-width="1"/>
<ellipse cx="391.4" cy="243.0" rx="0.9" ry="1.1" fill="#555" stroke-width="0.5"/>
<ellipse cx="454.0" cy="247.0" rx="6.6" ry="7.6" fill="#fff" stroke-width="0.9"/>
<ellipse cx="454.0" cy="247.0" rx="4.6" ry="5.4" stroke-width="1.2"/>
<ellipse cx="454.4" cy="247.0" rx="2.3" ry="2.8" fill="#fff" stroke-width="1"/>
<ellipse cx="454.4" cy="247.0" rx="0.9" ry="1.1" fill="#555" stroke-width="0.5"/>
<ellipse cx="407.0" cy="274.0" rx="6.6" ry="7.6" fill="#fff" stroke-width="0.9"/>
<ellipse cx="407.0" cy="274.0" rx="4.6" ry="5.4" stroke-width="1.2"/>
<ellipse cx="407.4" cy="274.0" rx="2.3" ry="2.8" fill="#fff" stroke-width="1"/>
<ellipse cx="407.4" cy="274.0" rx="0.9" ry="1.1" fill="#555" stroke-width="0.5"/>
<ellipse cx="438.0" cy="276.0" rx="6.6" ry="7.6" fill="#fff" stroke-width="0.9"/>
<ellipse cx="438.0" cy="276.0" rx="4.6" ry="5.4" stroke-width="1.2"/>
<ellipse cx="438.4" cy="276.0" rx="2.3" ry="2.8" fill="#fff" stroke-width="1"/>
<ellipse cx="438.4" cy="276.0" rx="0.9" ry="1.1" fill="#555" stroke-width="0.5"/>
<g transform="translate(241.2,-3.4)">
<path d="M224.6,201.6 L234.6,200.8 Q238.6,202 239,208 L239,229 L233.6,229 L233.6,213 Q233,209.6 229,209.4 L226,212 Z" fill="#fff"/>
<path d="M233.8,229 L233.8,237 L236.6,237 L236.6,229" fill="#fff" stroke-width="0.8"/>
<path d="M233.8,231 L236.6,231 M233.8,233 L236.6,233 M233.8,235 L236.6,235" stroke-width="0.5"/>
<path d="M234.2,237 Q236.4,246 236.6,256 M236.6,237 Q239,246 239,256" stroke-width="0.8"/>
<ellipse cx="230.4" cy="210.4" rx="1.3" ry="2.2" fill="#555" stroke-width="0.6"/>
<path d="M220,203 L225,201.4 L227.2,207.6 L226.2,218 L221.6,220 L219,215.4 L218.5,207.8 Z" fill="#fff"/>
<path d="M220,203 L222.4,208.8 L221.6,220 M222.4,208.8 L227.2,207.6" stroke-width="0.8"/>
</g>
<path d="M454,245.8 L440.6,248.8 Q438.4,249.6 439.4,251.6 L462.4,305.4 L465,304.4 L442.6,252 L454.6,249 Z" fill="#fff" stroke-width="0.9"/>
<path d="M438,286 Q452,289 462.4,279 L457.6,274.4 L474.4,269.8 L477.6,286 L471.6,283 Q456,298.6 438,289.4 Z" fill="#111" stroke="#111" stroke-width="1"/>
<path d="M463,302 Q452,310 446.4,318 Q443,323 444.6,327 Q447,331 451,329.6 Q452,334 457,336 L515,336 Q512,328 506,322 Q498,313 488,308.6 Q480,303 472,300.6 Q467,299.6 463,302 Z" fill="#fff" stroke="none"/>
<path d="M457,336 Q452,334 451,329.6 Q447,331 444.6,327 Q443,323 446.4,318 Q452,310 463,302 Q467,299.6 472,300.6 Q480,303 488,308.6 Q498,313 506,322 Q512,328 515,336" stroke="#444" stroke-width="1"/>
<path d="M451,329.6 Q455,318 464,309 M458,335.6 Q461,324 470,315 M470,304 Q474,304.6 476,307 M476,309.6 Q480,310.6 482,313 M482,316 Q486,317 488,319.6 M486,323 Q490,324 492,326.6" stroke="#444" stroke-width="1"/>
</g>
<g id="f11">
<g transform="translate(-28.73,378.56) scale(0.935)" stroke-width="1.2">
<path d="M184.8,165.2 L197.5,163.5 L234.0,171.3 L279.0,166.0 L279.0,171.5 L234.0,176.8 L184.8,170.0 Z" fill="#fff"/>
<path d="M184.8,170.0 L234.0,176.8 L279.0,171.5 M234.0,171.3 L234.0,176.8" />
<path d="M186.6,165.0 L186.6,161.6 A4.4,1.3 0 0 1 195.4,161.6 L195.4,164.0" fill="#fff"/>
<path d="M186.6,161.6 A4.4,1.3 0 0 0 195.4,161.6" stroke-width="0.7"/>
<path d="M234.0,176.8 L279.0,171.5 L279.0,222.6 L240.5,228.6 L234.0,228.6 Z" fill="#fff"/>
<path d="M240.5,176.0 L240.5,228.6" />
<path d="M234.0,176.8 L234.0,230.0" stroke="#999" stroke-width="0.7"/>
<path d="M240.5,219.6 L279.0,211.8 M240.5,224.0 L279.0,216.4" />
<g transform="translate(2.6,0.0)">
<path d="M191.4,286.1 L236,282 L262,280 L284,282 L286.6,284 L286.6,288.6 L279,290 L277,291.6 L268,292.6 L266,294.6 L256,295.6 L254,297.4 L241,297.4 L192.6,289.2 Z" fill="#fff"/>
<path d="M191.4,286.1 L241,292.4 L254.4,290.8 L256,289 L266,288 L268,286.2 L277,285.4 L279,284.4 L286.6,284" />
<path d="M238,287.6 L262,284.4 L281,283.4 M243,290 L254,288.6 M258,286.6 L266,285.6" stroke-width="0.8" stroke="#333"/>
<ellipse cx="249.6" cy="289" rx="3.6" ry="0.9" stroke-width="0.8" fill="#ddd"/>
<ellipse cx="271.6" cy="285.4" rx="3.8" ry="0.9" stroke-width="0.8" fill="#ddd"/>
<path d="M241,292.4 L241,297.4 M254.4,290.8 L254.4,297 M266,288 L266,294.4 M277,285.4 L277,291.4" stroke-width="0.8"/>
<path d="M238.4,262 L236.4,289.4 L239,289.8 L242,262 Z" fill="#fff" stroke-width="0.9"/>
<path d="M248.6,266 L254.4,284.6 L257,284 L251.6,265 Z" fill="#fff" stroke-width="0.9"/>
<path d="M263.6,253.6 L277,282.4 L279.6,282 L266.4,252.6 Z" fill="#fff" stroke-width="0.9"/>
<path d="M254.4,284.6 L262,283.6 L277,282.4" stroke-width="0.8"/>
<path d="M241,254 L243,262 Q250,268 258,262 L260,255 Z" fill="#fff" stroke-width="0.9"/>
<path d="M242,258 Q250,264 259,258" stroke-width="0.7" stroke="#666"/>
</g>
<g transform="translate(0.0,0.0)">
<path d="M240.5,228.6 L270.6,224.2 L270.6,249.6 L262.0,253 L240.5,256 Z" fill="#fff" stroke-width="1"/>
<path d="M241.6,229.4 L256.0,227.6 L256.0,230.0 L241.6,231.8 Z" fill="#fff" stroke-width="1"/>
<path d="M241.6,234.8 L256.0,233.0 L256.0,236.0 L241.6,237.8 Z" fill="#fff" stroke-width="1"/>
<path d="M241.6,241.4 L256.0,239.6 L256.0,242.8 L241.6,244.6 Z" fill="#fff" stroke-width="1"/>
<path d="M241.6,247.8 L256.0,246.0 L256.0,249.6 L241.6,251.4 Z" fill="#fff" stroke-width="1"/>
<path d="M257.4,228.4 L269.0,226.6 L269.0,229.2 L257.4,231.0 Z" fill="#fff" stroke-width="1"/>
<path d="M257.4,235.0 L269.0,233.2 L269.0,236.4 L257.4,238.2 Z" fill="#fff" stroke-width="1"/>
<path d="M257.4,242.0 L269.0,240.2 L269.0,243.4 L257.4,245.2 Z" fill="#fff" stroke-width="1"/>
<path d="M248.0,229 L248.0,253.6 M256.6,227 L256.6,252 M263.0,226.6 L263.0,250" stroke-width="0.9" stroke="#333"/>
</g>
<g transform="translate(0.0,0.0)">
<path d="M198,85 L198,166 A33.2,6.5 0 0 0 231.2,172.5 L264.4,172 L264.4,85 Z" fill="#fff"/>
<ellipse cx="231.2" cy="84.6" rx="33.2" ry="6.7" fill="#fff"/>
<path d="M198,93.5 A33.2,6.9 0 0 0 264.4,93.5" />
</g><g transform="translate(0,-1.5)"><path d="M232.4,120.6 L242.4,121.4 L242.4,171.0 L232.4,172.0 Z" fill="#fff"/>
<path d="M232.4,166.5 L242.4,165.5" stroke-width="0.7"/>
<path d="M232.4,120.6 L258.8,117.6 L278.8,116.0 L298.0,116.4 L299.6,118.0 L274.0,124.4 L271.0,124.0 L242.4,121.4 Z" fill="#fff"/>
<path d="M242.4,121.4 L271.0,124.0 L271.0,173.4 L242.4,168.6 Z" fill="#fff"/>
<path d="M244.4,123.6 L269.0,126.0 L269.0,171.0 L244.4,167.0 Z" stroke-width="0.5" stroke="#777"/>
<path d="M271.0,124.0 L274.0,124.4 L299.6,118.0 L299.6,165.0 L274.0,173.6 L271.0,173.4 Z" fill="#fff"/>
<path d="M274.0,124.4 L274.0,173.6" />
<path d="M275.6,126.0 L298.0,120.4 L298.0,163.2 L275.6,171.6 Z" stroke-width="0.5" stroke="#777"/>
<ellipse cx="270.4" cy="127.8" rx="1.3" ry="1.7" fill="#fff" stroke-width="0.8"/>
<ellipse cx="270.4" cy="170.0" rx="1.3" ry="1.7" fill="#fff" stroke-width="0.8"/>
<ellipse cx="296.6" cy="122.4" rx="1.3" ry="1.7" fill="#fff" stroke-width="0.8"/>
<ellipse cx="296.6" cy="161.0" rx="1.3" ry="1.7" fill="#fff" stroke-width="0.8"/>
<path d="M267.4,124.0 L267.4,130.6 L273.4,131.4 L275.4,130.4 L275.4,124.6" stroke-width="0.8"/>
<path d="M267.4,173.0 L267.4,166.6 L273.4,167.4 L275.4,166.0 L275.4,173.0" stroke-width="0.8"/>
<path d="M294.0,119.6 L294.0,125.6 L299.6,124.6" stroke-width="0.8"/>
<path d="M294.0,164.0 L294.0,158.2 L299.6,157.0" stroke-width="0.8"/>
<g transform="translate(0.0,0.0)">
<path d="M258.6,114 L258.6,118.4 A10.2,2.6 0 0 0 279,118.4 L279,114 Z" fill="#fff"/>
<path d="M258.6,114 A10.2,2.4 0 0 0 279,114" />
<path d="M262,107 L262,114 A7.2,2 0 0 0 276.4,114 L276.4,107 Z" fill="#fff"/>
<path d="M258.6,96.6 L258.6,106.4 A10.2,2.6 0 0 0 279,106.4 L279,96.6 Z" fill="#fff"/>
<path d="M265,98 L265,108.4 M273.4,98 L273.4,108.4" stroke-width="0.8"/>
<path d="M258.6,96.6 A10.2,3 0 0 1 279,96.6 A10.2,3 0 0 1 258.6,96.6 Z" fill="#fff"/>
<path d="M261.6,95.4 L261.6,93 A7.2,2.2 0 0 1 276,93 L276,95.4" fill="#fff"/>
<ellipse cx="268.8" cy="93" rx="5" ry="1.4" stroke-width="0.7"/>
</g></g>
</g>
<path d="M224.4,588.4 L230.6,587 L231,581 Q242,588 241.8,599 Q241.6,609 231,613.4 L224.4,614 Z" fill="#fff"/>
<path d="M233.6,580.6 L256,589 L253,590.6 L234,584.8 Z" fill="#222" stroke="#111" stroke-width="0.6"/>
<path d="M242.6,594 Q247,600 244.6,607.8 L254.4,606.6 Q256.6,601.6 255.6,597.4 Z" fill="#333" stroke="#111" stroke-width="0.6"/>
<path d="M144,538.4 L190,544.8 L190,642 L144,642 Z" fill="#fff" stroke="none"/>
<path d="M144,538.4 L144,600" />
<path d="M198.0,608.0 L197.5,614.9 L196.1,621.5 L193.8,627.7 L190.7,633.1 L186.9,637.8 L182.4,641.4 L177.5,644.0 L172.2,645.4 L166.8,645.6 L161.4,644.6 L156.1,642.4 L151.2,639.1 L146.7,634.7 L142.9,629.5 L139.8,623.5 L137.5,617.1 L136.1,610.2 L135.6,603.2 L136.1,596.3 L137.5,589.7 L139.8,583.5 L142.9,578.1 L146.7,573.4 L151.2,569.8 L156.1,567.2 L161.4,565.8 L166.8,565.6 L172.2,566.6 L177.5,568.8 L182.4,572.1 L186.9,576.5 L190.7,581.7 L193.8,587.7 L196.1,594.1 L197.5,601.0Z" fill="#fff"/>
<path d="M195.6,607.8 L195.1,614.7 L193.7,621.4 L191.4,627.6 L188.3,633.1 L184.5,637.7 L180.0,641.4 L175.1,644.0 L169.8,645.4 L164.4,645.6 L159.0,644.6 L153.7,642.4 L148.8,639.0 L144.3,634.7 L140.5,629.4 L137.4,623.4 L135.1,616.9 L133.7,610.0 L133.2,603.0 L133.7,596.1 L135.1,589.4 L137.4,583.2 L140.5,577.7 L144.3,573.1 L148.8,569.4 L153.7,566.8 L159.0,565.4 L164.4,565.2 L169.8,566.2 L175.1,568.4 L180.0,571.8 L184.5,576.1 L188.3,581.4 L191.4,587.4 L193.7,593.9 L195.1,600.8Z" fill="#fff" stroke-width="0.9"/>
<path d="M192.6,607.4 L192.1,614.4 L190.7,621.1 L188.4,627.4 L185.3,632.9 L181.5,637.6 L177.0,641.3 L172.1,644.0 L166.8,645.4 L161.4,645.6 L156.0,644.6 L150.7,642.3 L145.8,639.0 L141.3,634.6 L137.5,629.3 L134.4,623.2 L132.1,616.7 L130.7,609.7 L130.2,602.6 L130.7,595.6 L132.1,588.9 L134.4,582.6 L137.5,577.1 L141.3,572.4 L145.8,568.7 L150.7,566.0 L156.0,564.6 L161.4,564.4 L166.8,565.4 L172.1,567.7 L177.0,571.0 L181.5,575.4 L185.3,580.7 L188.4,586.8 L190.7,593.3 L192.1,600.3Z" fill="#fff"/>
<path d="M190.8,607.2 L190.4,613.9 L189.0,620.2 L186.9,626.1 L183.9,631.4 L180.3,635.9 L176.1,639.4 L171.5,641.8 L166.5,643.2 L161.4,643.4 L156.3,642.4 L151.3,640.3 L146.7,637.1 L142.5,633.0 L138.9,628.0 L135.9,622.3 L133.8,616.0 L132.4,609.5 L132.0,602.8 L132.4,596.1 L133.8,589.8 L135.9,583.9 L138.9,578.6 L142.5,574.1 L146.7,570.6 L151.3,568.2 L156.3,566.8 L161.4,566.6 L166.5,567.6 L171.5,569.7 L176.1,572.9 L180.3,577.0 L183.9,582.0 L186.9,587.7 L189.0,594.0 L190.4,600.5Z" stroke-width="0.8"/>
<path d="M184.0,607.3 L183.7,612.1 L182.6,616.7 L180.9,620.9 L178.7,624.7 L175.9,627.9 L172.6,630.4 L169.0,632.1 L165.2,633.1 L161.2,633.2 L157.2,632.5 L153.4,630.9 L149.8,628.6 L146.5,625.6 L143.7,622.0 L141.5,617.9 L139.8,613.4 L138.7,608.7 L138.4,603.9 L138.7,599.1 L139.8,594.5 L141.5,590.3 L143.7,586.5 L146.5,583.3 L149.8,580.8 L153.4,579.1 L157.2,578.1 L161.2,578.0 L165.2,578.7 L169.0,580.3 L172.6,582.6 L175.9,585.6 L178.7,589.2 L180.9,593.3 L182.6,597.8 L183.7,602.5Z" stroke-width="0.8" fill="#fff"/>
<rect x="184.7" y="607.2" width="2.5" height="2.5" fill="#fff" stroke="#2a2a2a" stroke-width="0.75"/>
<rect x="184.1" y="612.7" width="2.5" height="2.5" fill="#fff" stroke="#2a2a2a" stroke-width="0.75"/>
<rect x="182.6" y="617.9" width="2.5" height="2.5" fill="#fff" stroke="#2a2a2a" stroke-width="0.75"/>
<rect x="180.4" y="622.6" width="2.5" height="2.5" fill="#fff" stroke="#2a2a2a" stroke-width="0.75"/>
<rect x="177.4" y="626.7" width="2.5" height="2.5" fill="#fff" stroke="#2a2a2a" stroke-width="0.75"/>
<rect x="173.9" y="630.0" width="2.5" height="2.5" fill="#fff" stroke="#2a2a2a" stroke-width="0.75"/>
<rect x="169.9" y="632.4" width="2.5" height="2.5" fill="#fff" stroke="#2a2a2a" stroke-width="0.75"/>
<rect x="165.6" y="633.8" width="2.5" height="2.5" fill="#fff" stroke="#2a2a2a" stroke-width="0.75"/>
<rect x="161.1" y="634.2" width="2.5" height="2.5" fill="#fff" stroke="#2a2a2a" stroke-width="0.75"/>
<rect x="156.6" y="633.6" width="2.5" height="2.5" fill="#fff" stroke="#2a2a2a" stroke-width="0.75"/>
<rect x="152.2" y="631.9" width="2.5" height="2.5" fill="#fff" stroke="#2a2a2a" stroke-width="0.75"/>
<rect x="148.0" y="629.3" width="2.5" height="2.5" fill="#fff" stroke="#2a2a2a" stroke-width="0.75"/>
<rect x="144.3" y="625.8" width="2.5" height="2.5" fill="#fff" stroke="#2a2a2a" stroke-width="0.75"/>
<rect x="141.1" y="621.6" width="2.5" height="2.5" fill="#fff" stroke="#2a2a2a" stroke-width="0.75"/>
<rect x="138.6" y="616.7" width="2.5" height="2.5" fill="#fff" stroke="#2a2a2a" stroke-width="0.75"/>
<rect x="136.8" y="611.5" width="2.5" height="2.5" fill="#fff" stroke="#2a2a2a" stroke-width="0.75"/>
<rect x="135.8" y="605.9" width="2.5" height="2.5" fill="#fff" stroke="#2a2a2a" stroke-width="0.75"/>
<rect x="135.6" y="600.3" width="2.5" height="2.5" fill="#fff" stroke="#2a2a2a" stroke-width="0.75"/>
<rect x="136.2" y="594.8" width="2.5" height="2.5" fill="#fff" stroke="#2a2a2a" stroke-width="0.75"/>
<rect x="137.7" y="589.6" width="2.5" height="2.5" fill="#fff" stroke="#2a2a2a" stroke-width="0.75"/>
<rect x="139.9" y="584.9" width="2.5" height="2.5" fill="#fff" stroke="#2a2a2a" stroke-width="0.75"/>
<rect x="142.9" y="580.8" width="2.5" height="2.5" fill="#fff" stroke="#2a2a2a" stroke-width="0.75"/>
<rect x="146.4" y="577.5" width="2.5" height="2.5" fill="#fff" stroke="#2a2a2a" stroke-width="0.75"/>
<rect x="150.4" y="575.1" width="2.5" height="2.5" fill="#fff" stroke="#2a2a2a" stroke-width="0.75"/>
<rect x="154.7" y="573.7" width="2.5" height="2.5" fill="#fff" stroke="#2a2a2a" stroke-width="0.75"/>
<rect x="159.2" y="573.3" width="2.5" height="2.5" fill="#fff" stroke="#2a2a2a" stroke-width="0.75"/>
<rect x="163.7" y="573.9" width="2.5" height="2.5" fill="#fff" stroke="#2a2a2a" stroke-width="0.75"/>
<rect x="168.1" y="575.6" width="2.5" height="2.5" fill="#fff" stroke="#2a2a2a" stroke-width="0.75"/>
<rect x="172.3" y="578.2" width="2.5" height="2.5" fill="#fff" stroke="#2a2a2a" stroke-width="0.75"/>
<rect x="176.0" y="581.7" width="2.5" height="2.5" fill="#fff" stroke="#2a2a2a" stroke-width="0.75"/>
<rect x="179.2" y="585.9" width="2.5" height="2.5" fill="#fff" stroke="#2a2a2a" stroke-width="0.75"/>
<rect x="181.7" y="590.8" width="2.5" height="2.5" fill="#fff" stroke="#2a2a2a" stroke-width="0.75"/>
<rect x="183.5" y="596.0" width="2.5" height="2.5" fill="#fff" stroke="#2a2a2a" stroke-width="0.75"/>
<rect x="184.5" y="601.6" width="2.5" height="2.5" fill="#fff" stroke="#2a2a2a" stroke-width="0.75"/>
<rect x="187.7" y="607.7" width="2.5" height="2.5" fill="#fff" stroke="#2a2a2a" stroke-width="0.75"/>
<rect x="187.1" y="613.1" width="2.5" height="2.5" fill="#fff" stroke="#2a2a2a" stroke-width="0.75"/>
<rect x="185.9" y="618.3" width="2.5" height="2.5" fill="#fff" stroke="#2a2a2a" stroke-width="0.75"/>
<rect x="184.1" y="623.2" width="2.5" height="2.5" fill="#fff" stroke="#2a2a2a" stroke-width="0.75"/>
<rect x="181.6" y="627.5" width="2.5" height="2.5" fill="#fff" stroke="#2a2a2a" stroke-width="0.75"/>
<rect x="178.6" y="631.3" width="2.5" height="2.5" fill="#fff" stroke="#2a2a2a" stroke-width="0.75"/>
<rect x="175.2" y="634.4" width="2.5" height="2.5" fill="#fff" stroke="#2a2a2a" stroke-width="0.75"/>
<rect x="171.4" y="636.8" width="2.5" height="2.5" fill="#fff" stroke="#2a2a2a" stroke-width="0.75"/>
<rect x="167.3" y="638.3" width="2.5" height="2.5" fill="#fff" stroke="#2a2a2a" stroke-width="0.75"/>
<rect x="163.0" y="639.0" width="2.5" height="2.5" fill="#fff" stroke="#2a2a2a" stroke-width="0.75"/>
<rect x="158.7" y="638.8" width="2.5" height="2.5" fill="#fff" stroke="#2a2a2a" stroke-width="0.75"/>
<rect x="154.4" y="637.7" width="2.5" height="2.5" fill="#fff" stroke="#2a2a2a" stroke-width="0.75"/>
<rect x="150.3" y="635.9" width="2.5" height="2.5" fill="#fff" stroke="#2a2a2a" stroke-width="0.75"/>
<rect x="146.4" y="633.2" width="2.5" height="2.5" fill="#fff" stroke="#2a2a2a" stroke-width="0.75"/>
<rect x="142.8" y="629.8" width="2.5" height="2.5" fill="#fff" stroke="#2a2a2a" stroke-width="0.75"/>
<rect x="139.6" y="625.7" width="2.5" height="2.5" fill="#fff" stroke="#2a2a2a" stroke-width="0.75"/>
<rect x="137.0" y="621.2" width="2.5" height="2.5" fill="#fff" stroke="#2a2a2a" stroke-width="0.75"/>
<rect x="134.9" y="616.2" width="2.5" height="2.5" fill="#fff" stroke="#2a2a2a" stroke-width="0.75"/>
<rect x="133.5" y="610.8" width="2.5" height="2.5" fill="#fff" stroke="#2a2a2a" stroke-width="0.75"/>
<rect x="132.7" y="605.3" width="2.5" height="2.5" fill="#fff" stroke="#2a2a2a" stroke-width="0.75"/>
<rect x="132.6" y="599.8" width="2.5" height="2.5" fill="#fff" stroke="#2a2a2a" stroke-width="0.75"/>
<rect x="133.2" y="594.4" width="2.5" height="2.5" fill="#fff" stroke="#2a2a2a" stroke-width="0.75"/>
<rect x="134.4" y="589.2" width="2.5" height="2.5" fill="#fff" stroke="#2a2a2a" stroke-width="0.75"/>
<rect x="136.2" y="584.3" width="2.5" height="2.5" fill="#fff" stroke="#2a2a2a" stroke-width="0.75"/>
<rect x="138.7" y="580.0" width="2.5" height="2.5" fill="#fff" stroke="#2a2a2a" stroke-width="0.75"/>
<rect x="141.7" y="576.2" width="2.5" height="2.5" fill="#fff" stroke="#2a2a2a" stroke-width="0.75"/>
<rect x="145.1" y="573.1" width="2.5" height="2.5" fill="#fff" stroke="#2a2a2a" stroke-width="0.75"/>
<rect x="148.9" y="570.7" width="2.5" height="2.5" fill="#fff" stroke="#2a2a2a" stroke-width="0.75"/>
<rect x="153.0" y="569.2" width="2.5" height="2.5" fill="#fff" stroke="#2a2a2a" stroke-width="0.75"/>
<rect x="157.3" y="568.5" width="2.5" height="2.5" fill="#fff" stroke="#2a2a2a" stroke-width="0.75"/>
<rect x="161.6" y="568.7" width="2.5" height="2.5" fill="#fff" stroke="#2a2a2a" stroke-width="0.75"/>
<rect x="165.9" y="569.8" width="2.5" height="2.5" fill="#fff" stroke="#2a2a2a" stroke-width="0.75"/>
<rect x="170.0" y="571.6" width="2.5" height="2.5" fill="#fff" stroke="#2a2a2a" stroke-width="0.75"/>
<rect x="174.0" y="574.3" width="2.5" height="2.5" fill="#fff" stroke="#2a2a2a" stroke-width="0.75"/>
<rect x="177.5" y="577.7" width="2.5" height="2.5" fill="#fff" stroke="#2a2a2a" stroke-width="0.75"/>
<rect x="180.7" y="581.8" width="2.5" height="2.5" fill="#fff" stroke="#2a2a2a" stroke-width="0.75"/>
<rect x="183.3" y="586.3" width="2.5" height="2.5" fill="#fff" stroke="#2a2a2a" stroke-width="0.75"/>
<rect x="185.4" y="591.3" width="2.5" height="2.5" fill="#fff" stroke="#2a2a2a" stroke-width="0.75"/>
<rect x="186.8" y="596.7" width="2.5" height="2.5" fill="#fff" stroke="#2a2a2a" stroke-width="0.75"/>
<rect x="187.6" y="602.2" width="2.5" height="2.5" fill="#fff" stroke="#2a2a2a" stroke-width="0.75"/>
<ellipse cx="148.4" cy="575.3" rx="3.9" ry="4.3" fill="#fff" stroke-width="1.1" stroke="#222"/>
<ellipse cx="148.4" cy="575.3" rx="1.7" ry="1.9" fill="#e8e8e8" stroke-width="0.8" stroke="#444"/>
<ellipse cx="174.4" cy="577.3" rx="3.9" ry="4.3" fill="#fff" stroke-width="1.1" stroke="#222"/>
<ellipse cx="174.4" cy="577.3" rx="1.7" ry="1.9" fill="#e8e8e8" stroke-width="0.8" stroke="#444"/>
<ellipse cx="134.0" cy="602.9" rx="3.9" ry="4.3" fill="#fff" stroke-width="1.1" stroke="#222"/>
<ellipse cx="134.0" cy="602.9" rx="1.7" ry="1.9" fill="#e8e8e8" stroke-width="0.8" stroke="#444"/>
<ellipse cx="188.8" cy="607.1" rx="3.9" ry="4.3" fill="#fff" stroke-width="1.1" stroke="#222"/>
<ellipse cx="188.8" cy="607.1" rx="1.7" ry="1.9" fill="#e8e8e8" stroke-width="0.8" stroke="#444"/>
<ellipse cx="148.4" cy="632.7" rx="3.9" ry="4.3" fill="#fff" stroke-width="1.1" stroke="#222"/>
<ellipse cx="148.4" cy="632.7" rx="1.7" ry="1.9" fill="#e8e8e8" stroke-width="0.8" stroke="#444"/>
<ellipse cx="174.4" cy="634.7" rx="3.9" ry="4.3" fill="#fff" stroke-width="1.1" stroke="#222"/>
<ellipse cx="174.4" cy="634.7" rx="1.7" ry="1.9" fill="#e8e8e8" stroke-width="0.8" stroke="#444"/>
<path d="M183.1,607.5 L182.8,612.1 L181.8,616.5 L180.1,620.7 L177.9,624.3 L175.2,627.4 L172.1,629.8 L168.6,631.6 L164.8,632.5 L161.0,632.6 L157.2,631.9 L153.4,630.4 L150.0,628.2 L146.8,625.3 L144.1,621.7 L141.9,617.7 L140.2,613.4 L139.2,608.8 L138.9,604.1 L139.2,599.5 L140.2,595.1 L141.9,590.9 L144.1,587.3 L146.8,584.2 L149.9,581.8 L153.4,580.0 L157.2,579.1 L161.0,579.0 L164.8,579.7 L168.6,581.2 L172.1,583.4 L175.2,586.3 L177.9,589.9 L180.1,593.9 L181.8,598.2 L182.8,602.8Z" fill="#5c5c5c" stroke="#222" stroke-width="1.2"/>
<path d="M181.0,607.3 L180.7,611.4 L179.8,615.4 L178.4,619.1 L176.4,622.4 L174.0,625.1 L171.2,627.3 L168.1,628.9 L164.8,629.7 L161.4,629.8 L158.0,629.2 L154.7,627.8 L151.6,625.8 L148.8,623.2 L146.4,620.1 L144.4,616.5 L143.0,612.6 L142.1,608.5 L141.8,604.3 L142.1,600.2 L143.0,596.2 L144.4,592.5 L146.4,589.2 L148.8,586.5 L151.6,584.3 L154.7,582.7 L158.0,581.9 L161.4,581.8 L164.8,582.4 L168.1,583.8 L171.2,585.8 L174.0,588.4 L176.4,591.5 L178.4,595.1 L179.8,599.0 L180.7,603.1Z" stroke="#2c2c2c" stroke-width="0.8"/>
<path d="M177.2,606.9 L177.0,610.0 L176.3,613.0 L175.2,615.8 L173.8,618.2 L172.0,620.3 L169.9,621.9 L167.6,623.1 L165.1,623.7 L162.6,623.8 L160.1,623.3 L157.6,622.3 L155.3,620.8 L153.2,618.9 L151.4,616.5 L150.0,613.8 L148.9,610.9 L148.2,607.8 L148.0,604.7 L148.2,601.6 L148.9,598.6 L150.0,595.8 L151.4,593.4 L153.2,591.3 L155.3,589.7 L157.6,588.5 L160.1,587.9 L162.6,587.8 L165.1,588.3 L167.6,589.3 L169.9,590.8 L172.0,592.7 L173.8,595.1 L175.2,597.8 L176.3,600.7 L177.0,603.8Z" stroke="#2c2c2c" stroke-width="0.9"/>
<path d="M174.8,606.7 L174.6,609.3 L174.1,611.7 L173.2,614.0 L172.0,616.0 L170.5,617.7 L168.8,619.1 L166.9,620.0 L164.9,620.5 L162.8,620.6 L160.7,620.2 L158.7,619.4 L156.8,618.2 L155.1,616.6 L153.6,614.6 L152.4,612.4 L151.5,610.0 L151.0,607.5 L150.8,604.9 L151.0,602.3 L151.5,599.9 L152.4,597.6 L153.6,595.6 L155.1,593.9 L156.8,592.5 L158.7,591.6 L160.7,591.1 L162.8,591.0 L164.9,591.4 L166.9,592.2 L168.8,593.4 L170.5,595.0 L172.0,597.0 L173.2,599.2 L174.1,601.6 L174.6,604.1Z" stroke="#333" stroke-width="0.7"/>
<path d="M171.8,606.5 L171.7,608.3 L171.3,610.1 L170.6,611.8 L169.7,613.3 L168.7,614.5 L167.4,615.5 L166.0,616.2 L164.5,616.6 L163.0,616.6 L161.5,616.3 L160.0,615.7 L158.6,614.8 L157.3,613.6 L156.3,612.2 L155.4,610.6 L154.7,608.9 L154.3,607.0 L154.2,605.1 L154.3,603.3 L154.7,601.5 L155.4,599.8 L156.3,598.3 L157.3,597.1 L158.6,596.1 L160.0,595.4 L161.5,595.0 L163.0,595.0 L164.5,595.3 L166.0,595.9 L167.4,596.8 L168.7,598.0 L169.7,599.4 L170.6,601.0 L171.3,602.7 L171.7,604.6Z" fill="#616161" stroke="#2a2a2a" stroke-width="0.9"/>
<path d="M128,604.4 L138.8,596.8 L137.6,602.4 L154.2,602.8 L154.2,607.2 L137.6,606.8 L138.8,612.6 Z" fill="#111" stroke="#111" stroke-width="1"/>
<path d="M282.8,578.6 C283.4,566 286.6,556.8 290.6,556.8 C293.6,556.8 295.6,561.6 296.2,568.2" stroke="#111" stroke-width="1.9"/>
<path d="M254.8,567.6 Q262,566.6 268,568.4 L282.4,578.4 L303,588 L303,609 L275,607.6 L252,611 Q249.6,610.6 251.6,608.6 L262,603 L256,596 L266.4,592.4 L247,583.4 Q238.6,580.6 238.8,577.8 Q239.6,574.6 246,574.4 L257,574 Q253.6,569 254.8,567.6 Z" fill="#fff" stroke="none"/>
<path d="M303,588 L282.4,578.4 L268,568.4 Q262,566.6 255.4,567.4 Q253.6,569 257.4,571.8 Q262,575 268,576.2 Q272,577.6 275.4,579.2" stroke="#444" stroke-width="1"/>
<path d="M268,576.2 Q262,574.2 256.4,574 L246,574.4 Q239.6,574.6 238.8,577.8 Q238.6,580.2 244,581.6 L256.4,580.8 Q264,582.4 269.4,584.4" stroke="#444" stroke-width="1"/>
<path d="M244,581.6 L258,588.6 L266.4,592.4 Q262,589 256,584.6" stroke="#444" stroke-width="1"/>
<path d="M256,596.4 Q264,601 276,607.4" stroke="#444" stroke-width="1"/>
<path d="M262.6,603 L252.6,608 Q249.6,610.4 252,611 L275,607.8 L298.4,608.8" stroke="#444" stroke-width="1"/>
<path d="M256.4,603 Q266,604.4 275.4,607.4" stroke="#444" stroke-width="1"/>
<path d="M283.8,601 C284.6,616 287,629.2 291.2,629.2 C295.4,629.2 298.4,620 299.2,608.8" stroke="#111" stroke-width="1.9"/>
<path d="M283.4,595.6 L279.8,605.4 L283.8,603.6 L287.6,605.2 Z" fill="#111" stroke="#111" stroke-width="1"/>
</g>
<g id="f12">
<g transform="translate(255.47,379.76) scale(0.935)" stroke-width="1.2">
<path d="M184.8,165.2 L197.5,163.5 L234.0,171.3 L279.0,166.0 L279.0,171.5 L234.0,176.8 L184.8,170.0 Z" fill="#fff"/>
<path d="M184.8,170.0 L234.0,176.8 L279.0,171.5 M234.0,171.3 L234.0,176.8" />
<path d="M186.6,165.0 L186.6,161.6 A4.4,1.3 0 0 1 195.4,161.6 L195.4,164.0" fill="#fff"/>
<path d="M186.6,161.6 A4.4,1.3 0 0 0 195.4,161.6" stroke-width="0.7"/>
<path d="M234.0,176.8 L279.0,171.5 L279.0,222.6 L240.5,228.6 L234.0,228.6 Z" fill="#fff"/>
<path d="M240.5,176.0 L240.5,228.6" />
<path d="M234.0,176.8 L234.0,230.0" stroke="#999" stroke-width="0.7"/>
<path d="M240.5,219.6 L279.0,211.8 M240.5,224.0 L279.0,216.4" />
<g transform="translate(2.6,0.0)">
<path d="M191.4,286.1 L236,282 L262,280 L284,282 L286.6,284 L286.6,288.6 L279,290 L277,291.6 L268,292.6 L266,294.6 L256,295.6 L254,297.4 L241,297.4 L192.6,289.2 Z" fill="#fff"/>
<path d="M191.4,286.1 L241,292.4 L254.4,290.8 L256,289 L266,288 L268,286.2 L277,285.4 L279,284.4 L286.6,284" />
<path d="M238,287.6 L262,284.4 L281,283.4 M243,290 L254,288.6 M258,286.6 L266,285.6" stroke-width="0.8" stroke="#333"/>
<ellipse cx="249.6" cy="289" rx="3.6" ry="0.9" stroke-width="0.8" fill="#ddd"/>
<ellipse cx="271.6" cy="285.4" rx="3.8" ry="0.9" stroke-width="0.8" fill="#ddd"/>
<path d="M241,292.4 L241,297.4 M254.4,290.8 L254.4,297 M266,288 L266,294.4 M277,285.4 L277,291.4" stroke-width="0.8"/>
<path d="M238.4,262 L236.4,289.4 L239,289.8 L242,262 Z" fill="#fff" stroke-width="0.9"/>
<path d="M248.6,266 L254.4,284.6 L257,284 L251.6,265 Z" fill="#fff" stroke-width="0.9"/>
<path d="M263.6,253.6 L277,282.4 L279.6,282 L266.4,252.6 Z" fill="#fff" stroke-width="0.9"/>
<path d="M254.4,284.6 L262,283.6 L277,282.4" stroke-width="0.8"/>
<path d="M241,254 L243,262 Q250,268 258,262 L260,255 Z" fill="#fff" stroke-width="0.9"/>
<path d="M242,258 Q250,264 259,258" stroke-width="0.7" stroke="#666"/>
</g>
<g transform="translate(0.0,0.0)">
<path d="M240.5,228.6 L270.6,224.2 L270.6,249.6 L262.0,253 L240.5,256 Z" fill="#fff" stroke-width="1"/>
<path d="M241.6,229.4 L256.0,227.6 L256.0,230.0 L241.6,231.8 Z" fill="#fff" stroke-width="1"/>
<path d="M241.6,234.8 L256.0,233.0 L256.0,236.0 L241.6,237.8 Z" fill="#fff" stroke-width="1"/>
<path d="M241.6,241.4 L256.0,239.6 L256.0,242.8 L241.6,244.6 Z" fill="#fff" stroke-width="1"/>
<path d="M241.6,247.8 L256.0,246.0 L256.0,249.6 L241.6,251.4 Z" fill="#fff" stroke-width="1"/>
<path d="M257.4,228.4 L269.0,226.6 L269.0,229.2 L257.4,231.0 Z" fill="#fff" stroke-width="1"/>
<path d="M257.4,235.0 L269.0,233.2 L269.0,236.4 L257.4,238.2 Z" fill="#fff" stroke-width="1"/>
<path d="M257.4,242.0 L269.0,240.2 L269.0,243.4 L257.4,245.2 Z" fill="#fff" stroke-width="1"/>
<path d="M248.0,229 L248.0,253.6 M256.6,227 L256.6,252 M263.0,226.6 L263.0,250" stroke-width="0.9" stroke="#333"/>
</g>
<g transform="translate(1.7,0)"><g transform="translate(-41.64,0) scale(1.150,1)">
<path d="M270.6,224.2 L277.3,222.6 L277.6,216 Q286.4,222 286.2,233.6 Q286,244 277,248.8 L270.6,249.6 Z" fill="#fff"/>
<path d="M277.6,215.8 Q281,213.6 287,214 Q299.8,217 299.8,231.6 Q299.6,246 288,248.2 L277,248.8 Q287,243 287,233.4 Q287,222 277.6,215.8 Z" fill="#222" stroke="#111"/>
<path d="M272.6,226 Q275,236 272.6,247" stroke-width="0.8"/>
</g></g>
<g transform="translate(0.0,0.0)">
<path d="M198,85 L198,166 A33.2,6.5 0 0 0 231.2,172.5 L264.4,172 L264.4,85 Z" fill="#fff"/>
<ellipse cx="231.2" cy="84.6" rx="33.2" ry="6.7" fill="#fff"/>
<path d="M198,93.5 A33.2,6.9 0 0 0 264.4,93.5" />
</g><g transform="translate(0,-1.5)"><path d="M232.4,120.6 L242.4,121.4 L242.4,171.0 L232.4,172.0 Z" fill="#fff"/>
<path d="M232.4,166.5 L242.4,165.5" stroke-width="0.7"/>
<path d="M232.4,120.6 L258.8,117.6 L278.8,116.0 L298.0,116.4 L299.6,118.0 L274.0,124.4 L271.0,124.0 L242.4,121.4 Z" fill="#fff"/>
<path d="M242.4,121.4 L271.0,124.0 L271.0,173.4 L242.4,168.6 Z" fill="#fff"/>
<path d="M244.4,123.6 L269.0,126.0 L269.0,171.0 L244.4,167.0 Z" stroke-width="0.5" stroke="#777"/>
<path d="M271.0,124.0 L274.0,124.4 L299.6,118.0 L299.6,165.0 L274.0,173.6 L271.0,173.4 Z" fill="#fff"/>
<path d="M274.0,124.4 L274.0,173.6" />
<path d="M275.6,126.0 L298.0,120.4 L298.0,163.2 L275.6,171.6 Z" stroke-width="0.5" stroke="#777"/>
<ellipse cx="270.4" cy="127.8" rx="1.3" ry="1.7" fill="#fff" stroke-width="0.8"/>
<ellipse cx="270.4" cy="170.0" rx="1.3" ry="1.7" fill="#fff" stroke-width="0.8"/>
<ellipse cx="296.6" cy="122.4" rx="1.3" ry="1.7" fill="#fff" stroke-width="0.8"/>
<ellipse cx="296.6" cy="161.0" rx="1.3" ry="1.7" fill="#fff" stroke-width="0.8"/>
<path d="M267.4,124.0 L267.4,130.6 L273.4,131.4 L275.4,130.4 L275.4,124.6" stroke-width="0.8"/>
<path d="M267.4,173.0 L267.4,166.6 L273.4,167.4 L275.4,166.0 L275.4,173.0" stroke-width="0.8"/>
<path d="M294.0,119.6 L294.0,125.6 L299.6,124.6" stroke-width="0.8"/>
<path d="M294.0,164.0 L294.0,158.2 L299.6,157.0" stroke-width="0.8"/>
<g transform="translate(0.0,0.0)">
<path d="M258.6,114 L258.6,118.4 A10.2,2.6 0 0 0 279,118.4 L279,114 Z" fill="#fff"/>
<path d="M258.6,114 A10.2,2.4 0 0 0 279,114" />
<path d="M262,107 L262,114 A7.2,2 0 0 0 276.4,114 L276.4,107 Z" fill="#fff"/>
<path d="M258.6,96.6 L258.6,106.4 A10.2,2.6 0 0 0 279,106.4 L279,96.6 Z" fill="#fff"/>
<path d="M265,98 L265,108.4 M273.4,98 L273.4,108.4" stroke-width="0.8"/>
<path d="M258.6,96.6 A10.2,3 0 0 1 279,96.6 A10.2,3 0 0 1 258.6,96.6 Z" fill="#fff"/>
<path d="M261.6,95.4 L261.6,93 A7.2,2.2 0 0 1 276,93 L276,95.4" fill="#fff"/>
<ellipse cx="268.8" cy="93" rx="5" ry="1.4" stroke-width="0.7"/>
</g></g>
</g>
<g transform="translate(284.2,1.2)">
<path d="M144,538.4 L190,544.8 L190,642 L144,642 Z" fill="#fff" stroke="none"/>
<path d="M144,538.4 L144,600" />
<path d="M198.0,608.0 L197.5,614.9 L196.1,621.5 L193.8,627.7 L190.7,633.1 L186.9,637.8 L182.4,641.4 L177.5,644.0 L172.2,645.4 L166.8,645.6 L161.4,644.6 L156.1,642.4 L151.2,639.1 L146.7,634.7 L142.9,629.5 L139.8,623.5 L137.5,617.1 L136.1,610.2 L135.6,603.2 L136.1,596.3 L137.5,589.7 L139.8,583.5 L142.9,578.1 L146.7,573.4 L151.2,569.8 L156.1,567.2 L161.4,565.8 L166.8,565.6 L172.2,566.6 L177.5,568.8 L182.4,572.1 L186.9,576.5 L190.7,581.7 L193.8,587.7 L196.1,594.1 L197.5,601.0Z" fill="#fff"/>
<path d="M195.6,607.8 L195.1,614.7 L193.7,621.4 L191.4,627.6 L188.3,633.1 L184.5,637.7 L180.0,641.4 L175.1,644.0 L169.8,645.4 L164.4,645.6 L159.0,644.6 L153.7,642.4 L148.8,639.0 L144.3,634.7 L140.5,629.4 L137.4,623.4 L135.1,616.9 L133.7,610.0 L133.2,603.0 L133.7,596.1 L135.1,589.4 L137.4,583.2 L140.5,577.7 L144.3,573.1 L148.8,569.4 L153.7,566.8 L159.0,565.4 L164.4,565.2 L169.8,566.2 L175.1,568.4 L180.0,571.8 L184.5,576.1 L188.3,581.4 L191.4,587.4 L193.7,593.9 L195.1,600.8Z" fill="#fff" stroke-width="0.9"/>
<path d="M192.6,607.4 L192.1,614.4 L190.7,621.1 L188.4,627.4 L185.3,632.9 L181.5,637.6 L177.0,641.3 L172.1,644.0 L166.8,645.4 L161.4,645.6 L156.0,644.6 L150.7,642.3 L145.8,639.0 L141.3,634.6 L137.5,629.3 L134.4,623.2 L132.1,616.7 L130.7,609.7 L130.2,602.6 L130.7,595.6 L132.1,588.9 L134.4,582.6 L137.5,577.1 L141.3,572.4 L145.8,568.7 L150.7,566.0 L156.0,564.6 L161.4,564.4 L166.8,565.4 L172.1,567.7 L177.0,571.0 L181.5,575.4 L185.3,580.7 L188.4,586.8 L190.7,593.3 L192.1,600.3Z" fill="#fff"/>
<path d="M190.8,607.2 L190.4,613.9 L189.0,620.2 L186.9,626.1 L183.9,631.4 L180.3,635.9 L176.1,639.4 L171.5,641.8 L166.5,643.2 L161.4,643.4 L156.3,642.4 L151.3,640.3 L146.7,637.1 L142.5,633.0 L138.9,628.0 L135.9,622.3 L133.8,616.0 L132.4,609.5 L132.0,602.8 L132.4,596.1 L133.8,589.8 L135.9,583.9 L138.9,578.6 L142.5,574.1 L146.7,570.6 L151.3,568.2 L156.3,566.8 L161.4,566.6 L166.5,567.6 L171.5,569.7 L176.1,572.9 L180.3,577.0 L183.9,582.0 L186.9,587.7 L189.0,594.0 L190.4,600.5Z" stroke-width="0.8"/>
<path d="M184.0,607.3 L183.7,612.1 L182.6,616.7 L180.9,620.9 L178.7,624.7 L175.9,627.9 L172.6,630.4 L169.0,632.1 L165.2,633.1 L161.2,633.2 L157.2,632.5 L153.4,630.9 L149.8,628.6 L146.5,625.6 L143.7,622.0 L141.5,617.9 L139.8,613.4 L138.7,608.7 L138.4,603.9 L138.7,599.1 L139.8,594.5 L141.5,590.3 L143.7,586.5 L146.5,583.3 L149.8,580.8 L153.4,579.1 L157.2,578.1 L161.2,578.0 L165.2,578.7 L169.0,580.3 L172.6,582.6 L175.9,585.6 L178.7,589.2 L180.9,593.3 L182.6,597.8 L183.7,602.5Z" stroke-width="0.8" fill="#fff"/>
<rect x="184.7" y="607.2" width="2.5" height="2.5" fill="#fff" stroke="#2a2a2a" stroke-width="0.75"/>
<rect x="184.1" y="612.7" width="2.5" height="2.5" fill="#fff" stroke="#2a2a2a" stroke-width="0.75"/>
<rect x="182.6" y="617.9" width="2.5" height="2.5" fill="#fff" stroke="#2a2a2a" stroke-width="0.75"/>
<rect x="180.4" y="622.6" width="2.5" height="2.5" fill="#fff" stroke="#2a2a2a" stroke-width="0.75"/>
<rect x="177.4" y="626.7" width="2.5" height="2.5" fill="#fff" stroke="#2a2a2a" stroke-width="0.75"/>
<rect x="173.9" y="630.0" width="2.5" height="2.5" fill="#fff" stroke="#2a2a2a" stroke-width="0.75"/>
<rect x="169.9" y="632.4" width="2.5" height="2.5" fill="#fff" stroke="#2a2a2a" stroke-width="0.75"/>
<rect x="165.6" y="633.8" width="2.5" height="2.5" fill="#fff" stroke="#2a2a2a" stroke-width="0.75"/>
<rect x="161.1" y="634.2" width="2.5" height="2.5" fill="#fff" stroke="#2a2a2a" stroke-width="0.75"/>
<rect x="156.6" y="633.6" width="2.5" height="2.5" fill="#fff" stroke="#2a2a2a" stroke-width="0.75"/>
<rect x="152.2" y="631.9" width="2.5" height="2.5" fill="#fff" stroke="#2a2a2a" stroke-width="0.75"/>
<rect x="148.0" y="629.3" width="2.5" height="2.5" fill="#fff" stroke="#2a2a2a" stroke-width="0.75"/>
<rect x="144.3" y="625.8" width="2.5" height="2.5" fill="#fff" stroke="#2a2a2a" stroke-width="0.75"/>
<rect x="141.1" y="621.6" width="2.5" height="2.5" fill="#fff" stroke="#2a2a2a" stroke-width="0.75"/>
<rect x="138.6" y="616.7" width="2.5" height="2.5" fill="#fff" stroke="#2a2a2a" stroke-width="0.75"/>
<rect x="136.8" y="611.5" width="2.5" height="2.5" fill="#fff" stroke="#2a2a2a" stroke-width="0.75"/>
<rect x="135.8" y="605.9" width="2.5" height="2.5" fill="#fff" stroke="#2a2a2a" stroke-width="0.75"/>
<rect x="135.6" y="600.3" width="2.5" height="2.5" fill="#fff" stroke="#2a2a2a" stroke-width="0.75"/>
<rect x="136.2" y="594.8" width="2.5" height="2.5" fill="#fff" stroke="#2a2a2a" stroke-width="0.75"/>
<rect x="137.7" y="589.6" width="2.5" height="2.5" fill="#fff" stroke="#2a2a2a" stroke-width="0.75"/>
<rect x="139.9" y="584.9" width="2.5" height="2.5" fill="#fff" stroke="#2a2a2a" stroke-width="0.75"/>
<rect x="142.9" y="580.8" width="2.5" height="2.5" fill="#fff" stroke="#2a2a2a" stroke-width="0.75"/>
<rect x="146.4" y="577.5" width="2.5" height="2.5" fill="#fff" stroke="#2a2a2a" stroke-width="0.75"/>
<rect x="150.4" y="575.1" width="2.5" height="2.5" fill="#fff" stroke="#2a2a2a" stroke-width="0.75"/>
<rect x="154.7" y="573.7" width="2.5" height="2.5" fill="#fff" stroke="#2a2a2a" stroke-width="0.75"/>
<rect x="159.2" y="573.3" width="2.5" height="2.5" fill="#fff" stroke="#2a2a2a" stroke-width="0.75"/>
<rect x="163.7" y="573.9" width="2.5" height="2.5" fill="#fff" stroke="#2a2a2a" stroke-width="0.75"/>
<rect x="168.1" y="575.6" width="2.5" height="2.5" fill="#fff" stroke="#2a2a2a" stroke-width="0.75"/>
<rect x="172.3" y="578.2" width="2.5" height="2.5" fill="#fff" stroke="#2a2a2a" stroke-width="0.75"/>
<rect x="176.0" y="581.7" width="2.5" height="2.5" fill="#fff" stroke="#2a2a2a" stroke-width="0.75"/>
<rect x="179.2" y="585.9" width="2.5" height="2.5" fill="#fff" stroke="#2a2a2a" stroke-width="0.75"/>
<rect x="181.7" y="590.8" width="2.5" height="2.5" fill="#fff" stroke="#2a2a2a" stroke-width="0.75"/>
<rect x="183.5" y="596.0" width="2.5" height="2.5" fill="#fff" stroke="#2a2a2a" stroke-width="0.75"/>
<rect x="184.5" y="601.6" width="2.5" height="2.5" fill="#fff" stroke="#2a2a2a" stroke-width="0.75"/>
<rect x="187.7" y="607.7" width="2.5" height="2.5" fill="#fff" stroke="#2a2a2a" stroke-width="0.75"/>
<rect x="187.1" y="613.1" width="2.5" height="2.5" fill="#fff" stroke="#2a2a2a" stroke-width="0.75"/>
<rect x="185.9" y="618.3" width="2.5" height="2.5" fill="#fff" stroke="#2a2a2a" stroke-width="0.75"/>
<rect x="184.1" y="623.2" width="2.5" height="2.5" fill="#fff" stroke="#2a2a2a" stroke-width="0.75"/>
<rect x="181.6" y="627.5" width="2.5" height="2.5" fill="#fff" stroke="#2a2a2a" stroke-width="0.75"/>
<rect x="178.6" y="631.3" width="2.5" height="2.5" fill="#fff" stroke="#2a2a2a" stroke-width="0.75"/>
<rect x="175.2" y="634.4" width="2.5" height="2.5" fill="#fff" stroke="#2a2a2a" stroke-width="0.75"/>
<rect x="171.4" y="636.8" width="2.5" height="2.5" fill="#fff" stroke="#2a2a2a" stroke-width="0.75"/>
<rect x="167.3" y="638.3" width="2.5" height="2.5" fill="#fff" stroke="#2a2a2a" stroke-width="0.75"/>
<rect x="163.0" y="639.0" width="2.5" height="2.5" fill="#fff" stroke="#2a2a2a" stroke-width="0.75"/>
<rect x="158.7" y="638.8" width="2.5" height="2.5" fill="#fff" stroke="#2a2a2a" stroke-width="0.75"/>
<rect x="154.4" y="637.7" width="2.5" height="2.5" fill="#fff" stroke="#2a2a2a" stroke-width="0.75"/>
<rect x="150.3" y="635.9" width="2.5" height="2.5" fill="#fff" stroke="#2a2a2a" stroke-width="0.75"/>
<rect x="146.4" y="633.2" width="2.5" height="2.5" fill="#fff" stroke="#2a2a2a" stroke-width="0.75"/>
<rect x="142.8" y="629.8" width="2.5" height="2.5" fill="#fff" stroke="#2a2a2a" stroke-width="0.75"/>
<rect x="139.6" y="625.7" width="2.5" height="2.5" fill="#fff" stroke="#2a2a2a" stroke-width="0.75"/>
<rect x="137.0" y="621.2" width="2.5" height="2.5" fill="#fff" stroke="#2a2a2a" stroke-width="0.75"/>
<rect x="134.9" y="616.2" width="2.5" height="2.5" fill="#fff" stroke="#2a2a2a" stroke-width="0.75"/>
<rect x="133.5" y="610.8" width="2.5" height="2.5" fill="#fff" stroke="#2a2a2a" stroke-width="0.75"/>
<rect x="132.7" y="605.3" width="2.5" height="2.5" fill="#fff" stroke="#2a2a2a" stroke-width="0.75"/>
<rect x="132.6" y="599.8" width="2.5" height="2.5" fill="#fff" stroke="#2a2a2a" stroke-width="0.75"/>
<rect x="133.2" y="594.4" width="2.5" height="2.5" fill="#fff" stroke="#2a2a2a" stroke-width="0.75"/>
<rect x="134.4" y="589.2" width="2.5" height="2.5" fill="#fff" stroke="#2a2a2a" stroke-width="0.75"/>
<rect x="136.2" y="584.3" width="2.5" height="2.5" fill="#fff" stroke="#2a2a2a" stroke-width="0.75"/>
<rect x="138.7" y="580.0" width="2.5" height="2.5" fill="#fff" stroke="#2a2a2a" stroke-width="0.75"/>
<rect x="141.7" y="576.2" width="2.5" height="2.5" fill="#fff" stroke="#2a2a2a" stroke-width="0.75"/>
<rect x="145.1" y="573.1" width="2.5" height="2.5" fill="#fff" stroke="#2a2a2a" stroke-width="0.75"/>
<rect x="148.9" y="570.7" width="2.5" height="2.5" fill="#fff" stroke="#2a2a2a" stroke-width="0.75"/>
<rect x="153.0" y="569.2" width="2.5" height="2.5" fill="#fff" stroke="#2a2a2a" stroke-width="0.75"/>
<rect x="157.3" y="568.5" width="2.5" height="2.5" fill="#fff" stroke="#2a2a2a" stroke-width="0.75"/>
<rect x="161.6" y="568.7" width="2.5" height="2.5" fill="#fff" stroke="#2a2a2a" stroke-width="0.75"/>
<rect x="165.9" y="569.8" width="2.5" height="2.5" fill="#fff" stroke="#2a2a2a" stroke-width="0.75"/>
<rect x="170.0" y="571.6" width="2.5" height="2.5" fill="#fff" stroke="#2a2a2a" stroke-width="0.75"/>
<rect x="174.0" y="574.3" width="2.5" height="2.5" fill="#fff" stroke="#2a2a2a" stroke-width="0.75"/>
<rect x="177.5" y="577.7" width="2.5" height="2.5" fill="#fff" stroke="#2a2a2a" stroke-width="0.75"/>
<rect x="180.7" y="581.8" width="2.5" height="2.5" fill="#fff" stroke="#2a2a2a" stroke-width="0.75"/>
<rect x="183.3" y="586.3" width="2.5" height="2.5" fill="#fff" stroke="#2a2a2a" stroke-width="0.75"/>
<rect x="185.4" y="591.3" width="2.5" height="2.5" fill="#fff" stroke="#2a2a2a" stroke-width="0.75"/>
<rect x="186.8" y="596.7" width="2.5" height="2.5" fill="#fff" stroke="#2a2a2a" stroke-width="0.75"/>
<rect x="187.6" y="602.2" width="2.5" height="2.5" fill="#fff" stroke="#2a2a2a" stroke-width="0.75"/>
<ellipse cx="148.4" cy="575.3" rx="3.9" ry="4.3" fill="#fff" stroke-width="1.1" stroke="#222"/>
<ellipse cx="148.4" cy="575.3" rx="1.7" ry="1.9" fill="#e8e8e8" stroke-width="0.8" stroke="#444"/>
<ellipse cx="174.4" cy="577.3" rx="3.9" ry="4.3" fill="#fff" stroke-width="1.1" stroke="#222"/>
<ellipse cx="174.4" cy="577.3" rx="1.7" ry="1.9" fill="#e8e8e8" stroke-width="0.8" stroke="#444"/>
<ellipse cx="134.0" cy="602.9" rx="3.9" ry="4.3" fill="#fff" stroke-width="1.1" stroke="#222"/>
<ellipse cx="134.0" cy="602.9" rx="1.7" ry="1.9" fill="#e8e8e8" stroke-width="0.8" stroke="#444"/>
<ellipse cx="188.8" cy="607.1" rx="3.9" ry="4.3" fill="#fff" stroke-width="1.1" stroke="#222"/>
<ellipse cx="188.8" cy="607.1" rx="1.7" ry="1.9" fill="#e8e8e8" stroke-width="0.8" stroke="#444"/>
<ellipse cx="148.4" cy="632.7" rx="3.9" ry="4.3" fill="#fff" stroke-width="1.1" stroke="#222"/>
<ellipse cx="148.4" cy="632.7" rx="1.7" ry="1.9" fill="#e8e8e8" stroke-width="0.8" stroke="#444"/>
<ellipse cx="174.4" cy="634.7" rx="3.9" ry="4.3" fill="#fff" stroke-width="1.1" stroke="#222"/>
<ellipse cx="174.4" cy="634.7" rx="1.7" ry="1.9" fill="#e8e8e8" stroke-width="0.8" stroke="#444"/>
<path d="M183.1,607.5 L182.8,612.1 L181.8,616.5 L180.1,620.7 L177.9,624.3 L175.2,627.4 L172.1,629.8 L168.6,631.6 L164.8,632.5 L161.0,632.6 L157.2,631.9 L153.4,630.4 L150.0,628.2 L146.8,625.3 L144.1,621.7 L141.9,617.7 L140.2,613.4 L139.2,608.8 L138.9,604.1 L139.2,599.5 L140.2,595.1 L141.9,590.9 L144.1,587.3 L146.8,584.2 L149.9,581.8 L153.4,580.0 L157.2,579.1 L161.0,579.0 L164.8,579.7 L168.6,581.2 L172.1,583.4 L175.2,586.3 L177.9,589.9 L180.1,593.9 L181.8,598.2 L182.8,602.8Z" fill="#5c5c5c" stroke="#222" stroke-width="1.2"/>
<path d="M181.0,607.3 L180.7,611.4 L179.8,615.4 L178.4,619.1 L176.4,622.4 L174.0,625.1 L171.2,627.3 L168.1,628.9 L164.8,629.7 L161.4,629.8 L158.0,629.2 L154.7,627.8 L151.6,625.8 L148.8,623.2 L146.4,620.1 L144.4,616.5 L143.0,612.6 L142.1,608.5 L141.8,604.3 L142.1,600.2 L143.0,596.2 L144.4,592.5 L146.4,589.2 L148.8,586.5 L151.6,584.3 L154.7,582.7 L158.0,581.9 L161.4,581.8 L164.8,582.4 L168.1,583.8 L171.2,585.8 L174.0,588.4 L176.4,591.5 L178.4,595.1 L179.8,599.0 L180.7,603.1Z" stroke="#2c2c2c" stroke-width="0.8"/>
<path d="M177.2,606.9 L177.0,610.0 L176.3,613.0 L175.2,615.8 L173.8,618.2 L172.0,620.3 L169.9,621.9 L167.6,623.1 L165.1,623.7 L162.6,623.8 L160.1,623.3 L157.6,622.3 L155.3,620.8 L153.2,618.9 L151.4,616.5 L150.0,613.8 L148.9,610.9 L148.2,607.8 L148.0,604.7 L148.2,601.6 L148.9,598.6 L150.0,595.8 L151.4,593.4 L153.2,591.3 L155.3,589.7 L157.6,588.5 L160.1,587.9 L162.6,587.8 L165.1,588.3 L167.6,589.3 L169.9,590.8 L172.0,592.7 L173.8,595.1 L175.2,597.8 L176.3,600.7 L177.0,603.8Z" stroke="#2c2c2c" stroke-width="0.9"/>
<path d="M174.8,606.7 L174.6,609.3 L174.1,611.7 L173.2,614.0 L172.0,616.0 L170.5,617.7 L168.8,619.1 L166.9,620.0 L164.9,620.5 L162.8,620.6 L160.7,620.2 L158.7,619.4 L156.8,618.2 L155.1,616.6 L153.6,614.6 L152.4,612.4 L151.5,610.0 L151.0,607.5 L150.8,604.9 L151.0,602.3 L151.5,599.9 L152.4,597.6 L153.6,595.6 L155.1,593.9 L156.8,592.5 L158.7,591.6 L160.7,591.1 L162.8,591.0 L164.9,591.4 L166.9,592.2 L168.8,593.4 L170.5,595.0 L172.0,597.0 L173.2,599.2 L174.1,601.6 L174.6,604.1Z" stroke="#333" stroke-width="0.7"/>
<path d="M171.8,606.5 L171.7,608.3 L171.3,610.1 L170.6,611.8 L169.7,613.3 L168.7,614.5 L167.4,615.5 L166.0,616.2 L164.5,616.6 L163.0,616.6 L161.5,616.3 L160.0,615.7 L158.6,614.8 L157.3,613.6 L156.3,612.2 L155.4,610.6 L154.7,608.9 L154.3,607.0 L154.2,605.1 L154.3,603.3 L154.7,601.5 L155.4,599.8 L156.3,598.3 L157.3,597.1 L158.6,596.1 L160.0,595.4 L161.5,595.0 L163.0,595.0 L164.5,595.3 L166.0,595.9 L167.4,596.8 L168.7,598.0 L169.7,599.4 L170.6,601.0 L171.3,602.7 L171.7,604.6Z" fill="#616161" stroke="#2a2a2a" stroke-width="0.9"/>
</g>
<path d="M380,612 C380.6,590 385.4,574 391,574" stroke="#111" stroke-width="2.6"/>
<path d="M381,656 C382,670 385,677 389.4,677 C395,677 399,664 400,644" stroke="#111" stroke-width="2.6"/>
<path d="M389,597 Q398,584 407.6,578.4 Q411,578 409.6,581 Q404,588 398,598" fill="#fff" stroke="#666" stroke-width="0.9"/>
<path d="M364,635 L383,605 Q392,598 401,595 Q418,584 432.6,579 Q437.6,578.6 436,582.6 Q430,590 421,597 Q432,592.6 441.6,591.6 Q446.6,592.4 444,596 Q432,606 419,616 L413,625 Q426,624.6 441,626.6 Q446,629 442,632.4 Q430,634 420,637.6 Q408,645 398,648 L381,659 Z" fill="#fff" stroke="none"/>
<path d="M364,635 L383,605 Q392,598 401,595 Q418,584 432.6,579 Q437.6,578.6 436,582.6 Q430,590 421,597 L413.4,604" stroke="#666" stroke-width="0.9"/>
<path d="M421,597 Q432,592.6 441.6,591.6 Q446.6,592.4 444,596 Q432,606 419,616 L413,625" stroke="#666" stroke-width="0.9"/>
<path d="M410.6,628 Q413,624.6 419,624.6 Q430,624.6 441,626.6 Q446,629 442,632.4 Q430,634 420,637.6 Q408,645 398,648 L381,659" stroke="#666" stroke-width="0.9"/>
<path d="M390.6,574 C396.6,574 400,592 400.2,611" stroke="#111" stroke-width="2.6"/>
<path d="M394.6,609 L405.4,609 L400.2,622 Z" fill="#111" stroke="#111" stroke-width="1"/>
</g>
</svg>
</body>
</html>
